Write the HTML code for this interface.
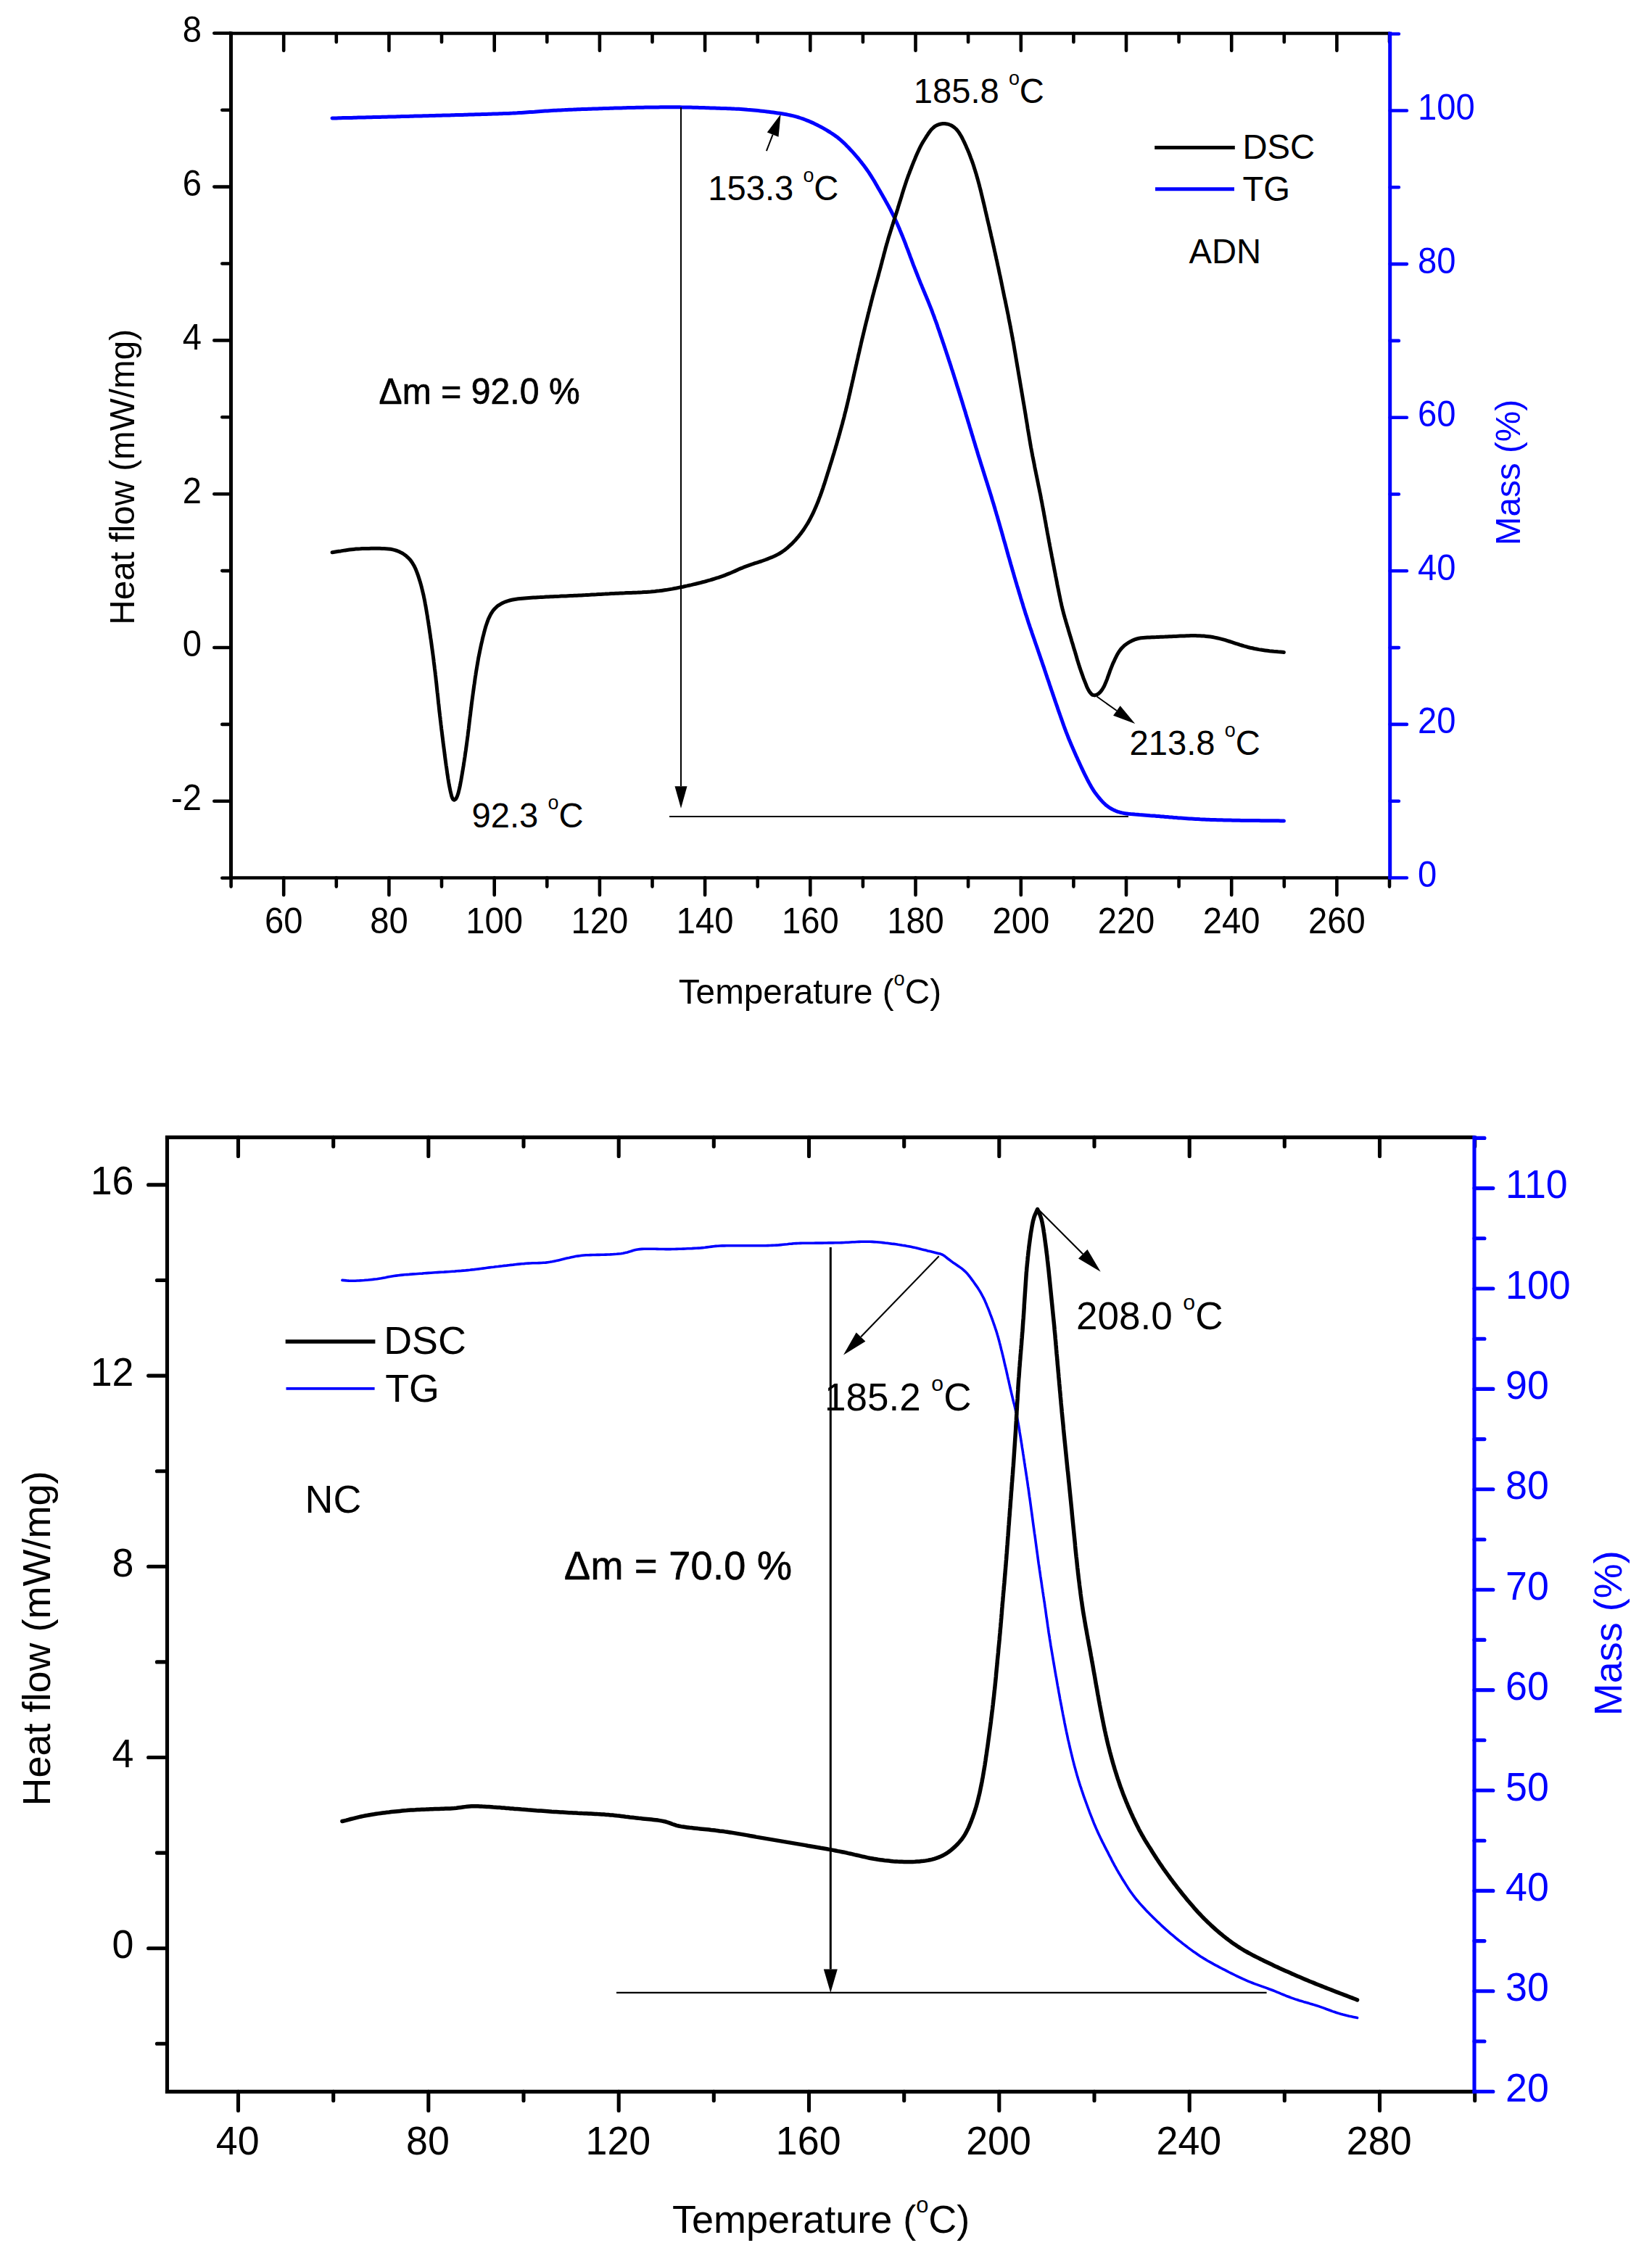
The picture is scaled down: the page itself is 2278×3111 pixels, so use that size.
<!DOCTYPE html>
<html lang="en"><head><meta charset="utf-8"><title>DSC / TG curves of ADN and NC</title>
<style>html,body{margin:0;padding:0;background:#fff}body{width:2278px;height:3111px;overflow:hidden}svg{display:block}text{font-family:'Liberation Sans', sans-serif}</style>
</head><body>
<svg width="2278" height="3111" viewBox="0 0 2278 3111">
<rect width="2278" height="3111" fill="#fff"/>
<g id="chart-adn"><g fill="none" stroke-linejoin="round" stroke-linecap="round">
<path d="M458.0 163.0L461.0 162.9L464.0 162.9L467.0 162.8L470.0 162.7L473.0 162.6L476.0 162.6L479.0 162.5L482.0 162.4L485.0 162.4L488.0 162.3L491.0 162.2L494.0 162.1L497.0 162.1L500.0 162.0L503.0 161.9L506.0 161.8L509.0 161.8L512.0 161.7L515.0 161.6L518.0 161.5L521.0 161.5L524.0 161.4L527.0 161.3L530.0 161.2L533.0 161.2L536.0 161.1L539.0 161.0L542.0 160.9L545.0 160.9L548.0 160.8L551.0 160.7L554.0 160.6L557.0 160.5L560.0 160.5L563.0 160.4L566.0 160.3L569.0 160.2L572.0 160.1L575.0 160.1L578.0 160.0L581.0 159.9L584.0 159.8L587.0 159.7L590.0 159.7L593.0 159.6L596.0 159.5L599.0 159.4L602.0 159.3L605.0 159.3L608.0 159.2L611.0 159.1L613.9 159.0L616.9 158.9L619.9 158.9L622.9 158.8L625.9 158.7L628.9 158.6L631.9 158.5L634.9 158.4L637.9 158.4L640.9 158.3L643.9 158.2L646.9 158.1L649.9 158.0L652.9 157.9L655.9 157.8L658.9 157.7L661.9 157.7L664.9 157.6L667.9 157.5L670.9 157.4L673.9 157.3L676.9 157.2L679.9 157.1L682.9 157.0L685.9 156.9L688.9 156.8L691.9 156.7L694.9 156.6L697.9 156.5L700.9 156.4L703.9 156.2L706.9 156.1L709.9 155.9L712.9 155.8L715.9 155.6L718.9 155.4L721.9 155.2L724.9 155.0L727.9 154.8L730.9 154.6L733.8 154.4L736.8 154.2L739.8 153.9L742.8 153.7L745.8 153.5L748.8 153.3L751.8 153.1L754.8 152.9L757.8 152.7L760.8 152.5L763.8 152.3L766.8 152.2L769.8 152.0L772.8 151.9L775.8 151.7L778.8 151.6L781.7 151.4L784.7 151.3L787.7 151.2L790.7 151.1L793.7 150.9L796.7 150.8L799.7 150.7L802.7 150.6L805.7 150.5L808.7 150.4L811.7 150.3L814.7 150.2L817.7 150.1L820.7 150.0L823.7 149.9L826.7 149.8L829.7 149.7L832.7 149.6L835.7 149.5L838.7 149.4L841.7 149.3L844.7 149.2L847.7 149.1L850.7 149.0L853.7 149.0L856.7 148.9L859.7 148.8L862.7 148.7L865.7 148.6L868.7 148.6L871.7 148.5L874.7 148.4L877.7 148.3L880.7 148.3L883.7 148.2L886.7 148.2L889.7 148.1L892.7 148.1L895.7 148.0L898.7 148.0L901.7 147.9L904.7 147.9L907.7 147.9L910.7 147.8L913.7 147.8L916.7 147.8L919.7 147.8L922.7 147.8L925.7 147.8L928.7 147.8L931.7 147.8L934.7 147.8L937.7 147.8L940.7 147.9L943.7 147.9L946.7 148.0L949.7 148.0L952.7 148.1L955.7 148.2L958.7 148.2L961.7 148.3L964.7 148.4L967.7 148.5L970.7 148.6L973.7 148.7L976.7 148.8L979.7 148.9L982.7 149.0L985.7 149.1L988.7 149.2L991.7 149.3L994.7 149.4L997.7 149.5L1000.7 149.6L1003.7 149.7L1006.7 149.8L1009.7 149.9L1012.7 150.1L1015.6 150.2L1018.6 150.3L1021.6 150.5L1024.6 150.7L1027.6 150.9L1030.6 151.2L1033.6 151.4L1036.6 151.7L1039.6 152.0L1042.6 152.3L1045.5 152.6L1048.5 152.9L1051.5 153.2L1054.5 153.6L1057.5 153.9L1060.4 154.3L1063.4 154.7L1066.4 155.1L1069.4 155.5L1072.3 155.9L1075.3 156.3L1078.3 156.8L1081.2 157.3L1084.2 157.8L1087.1 158.4L1090.0 159.0L1093.0 159.6L1095.9 160.4L1098.7 161.2L1101.6 162.0L1104.5 163.0L1107.3 163.9L1110.1 165.0L1112.9 166.1L1115.7 167.2L1118.4 168.4L1121.2 169.6L1123.9 170.9L1126.6 172.2L1129.2 173.6L1131.9 175.0L1134.5 176.4L1137.1 177.9L1139.7 179.4L1142.3 181.0L1144.8 182.5L1147.3 184.2L1149.8 185.8L1152.3 187.6L1154.7 189.3L1157.0 191.2L1159.3 193.1L1161.5 195.1L1163.7 197.1L1165.9 199.2L1168.0 201.4L1170.1 203.5L1172.1 205.7L1174.2 207.9L1176.2 210.1L1178.2 212.4L1180.1 214.6L1182.1 216.9L1184.0 219.2L1185.9 221.5L1187.8 223.9L1189.6 226.2L1191.4 228.6L1193.2 231.0L1195.0 233.5L1196.7 235.9L1198.4 238.4L1200.0 240.9L1201.6 243.4L1203.2 246.0L1204.8 248.5L1206.3 251.1L1207.8 253.7L1209.3 256.3L1210.8 258.9L1212.3 261.5L1213.8 264.1L1215.3 266.7L1216.8 269.3L1218.3 271.9L1219.8 274.5L1221.2 277.1L1222.7 279.8L1224.2 282.4L1225.6 285.0L1227.0 287.7L1228.4 290.3L1229.8 293.0L1231.1 295.6L1232.5 298.3L1233.8 301.0L1235.0 303.8L1236.3 306.5L1237.5 309.2L1238.7 312.0L1239.9 314.7L1241.0 317.5L1242.2 320.3L1243.3 323.0L1244.5 325.8L1245.6 328.6L1246.7 331.4L1247.8 334.2L1248.9 337.0L1249.9 339.8L1251.0 342.6L1252.1 345.4L1253.1 348.2L1254.2 351.0L1255.2 353.8L1256.3 356.6L1257.3 359.4L1258.4 362.3L1259.4 365.1L1260.5 367.9L1261.6 370.7L1262.7 373.5L1263.8 376.2L1264.9 379.0L1266.0 381.8L1267.1 384.6L1268.2 387.4L1269.3 390.2L1270.5 392.9L1271.6 395.7L1272.8 398.5L1273.9 401.2L1275.1 404.0L1276.2 406.8L1277.4 409.5L1278.5 412.3L1279.7 415.1L1280.8 417.9L1281.9 420.6L1283.0 423.4L1284.1 426.2L1285.2 429.0L1286.2 431.8L1287.3 434.6L1288.3 437.4L1289.3 440.3L1290.4 443.1L1291.4 445.9L1292.4 448.7L1293.3 451.6L1294.3 454.4L1295.3 457.2L1296.3 460.1L1297.2 462.9L1298.2 465.8L1299.2 468.6L1300.1 471.4L1301.1 474.3L1302.0 477.1L1303.0 480.0L1303.9 482.8L1304.9 485.7L1305.8 488.5L1306.8 491.4L1307.7 494.2L1308.6 497.1L1309.6 499.9L1310.5 502.8L1311.4 505.6L1312.3 508.5L1313.3 511.3L1314.2 514.2L1315.1 517.1L1316.0 519.9L1316.9 522.8L1317.8 525.6L1318.7 528.5L1319.6 531.4L1320.5 534.2L1321.4 537.1L1322.3 539.9L1323.2 542.8L1324.1 545.7L1325.0 548.5L1325.9 551.4L1326.8 554.3L1327.6 557.1L1328.5 560.0L1329.4 562.9L1330.3 565.7L1331.2 568.6L1332.0 571.5L1332.9 574.4L1333.8 577.2L1334.6 580.1L1335.5 583.0L1336.4 585.8L1337.2 588.7L1338.1 591.6L1339.0 594.5L1339.8 597.3L1340.7 600.2L1341.6 603.1L1342.4 605.9L1343.3 608.8L1344.2 611.7L1345.0 614.6L1345.9 617.4L1346.8 620.3L1347.7 623.2L1348.5 626.0L1349.4 628.9L1350.3 631.8L1351.2 634.6L1352.1 637.5L1353.0 640.4L1353.9 643.2L1354.8 646.1L1355.7 648.9L1356.6 651.8L1357.5 654.7L1358.4 657.5L1359.3 660.4L1360.2 663.2L1361.1 666.1L1362.0 669.0L1362.9 671.8L1363.8 674.7L1364.7 677.6L1365.6 680.4L1366.5 683.3L1367.4 686.2L1368.2 689.0L1369.1 691.9L1370.0 694.8L1370.8 697.6L1371.7 700.5L1372.5 703.4L1373.4 706.3L1374.2 709.2L1375.1 712.0L1375.9 714.9L1376.7 717.8L1377.6 720.7L1378.4 723.6L1379.2 726.4L1380.0 729.3L1380.9 732.2L1381.7 735.1L1382.5 738.0L1383.3 740.9L1384.1 743.8L1384.9 746.6L1385.8 749.5L1386.6 752.4L1387.4 755.3L1388.2 758.2L1389.0 761.1L1389.8 764.0L1390.6 766.9L1391.5 769.7L1392.3 772.6L1393.1 775.5L1393.9 778.4L1394.8 781.3L1395.6 784.2L1396.4 787.1L1397.3 789.9L1398.1 792.8L1398.9 795.7L1399.8 798.6L1400.6 801.4L1401.5 804.3L1402.3 807.2L1403.2 810.1L1404.1 812.9L1404.9 815.8L1405.8 818.7L1406.7 821.6L1407.5 824.4L1408.4 827.3L1409.3 830.2L1410.2 833.0L1411.0 835.9L1411.9 838.8L1412.8 841.6L1413.7 844.5L1414.6 847.4L1415.6 850.2L1416.5 853.1L1417.4 855.9L1418.3 858.8L1419.3 861.6L1420.2 864.5L1421.2 867.3L1422.2 870.1L1423.1 873.0L1424.1 875.8L1425.1 878.7L1426.1 881.5L1427.0 884.3L1428.0 887.2L1429.0 890.0L1430.0 892.8L1431.0 895.7L1431.9 898.5L1432.9 901.3L1433.9 904.2L1434.8 907.0L1435.8 909.9L1436.8 912.7L1437.7 915.5L1438.7 918.4L1439.7 921.2L1440.6 924.1L1441.6 926.9L1442.5 929.7L1443.5 932.6L1444.4 935.4L1445.4 938.3L1446.4 941.1L1447.3 944.0L1448.3 946.8L1449.2 949.7L1450.2 952.5L1451.2 955.3L1452.1 958.2L1453.1 961.0L1454.1 963.9L1455.0 966.7L1456.0 969.5L1457.0 972.4L1458.0 975.2L1458.9 978.0L1459.9 980.9L1460.9 983.7L1461.9 986.5L1462.9 989.4L1463.9 992.2L1464.9 995.0L1465.9 997.8L1466.9 1000.7L1467.9 1003.5L1469.0 1006.3L1470.0 1009.1L1471.1 1011.9L1472.2 1014.7L1473.3 1017.5L1474.4 1020.3L1475.6 1023.1L1476.7 1025.8L1477.9 1028.6L1479.1 1031.3L1480.3 1034.1L1481.5 1036.8L1482.7 1039.6L1483.9 1042.3L1485.2 1045.0L1486.4 1047.8L1487.7 1050.5L1488.9 1053.2L1490.2 1056.0L1491.4 1058.7L1492.7 1061.4L1494.0 1064.1L1495.3 1066.8L1496.6 1069.5L1498.0 1072.2L1499.3 1074.8L1500.7 1077.5L1502.1 1080.1L1503.6 1082.8L1505.1 1085.4L1506.6 1087.9L1508.2 1090.5L1509.9 1092.9L1511.7 1095.3L1513.6 1097.7L1515.4 1100.0L1517.4 1102.3L1519.4 1104.6L1521.4 1106.7L1523.6 1108.8L1525.8 1110.8L1528.2 1112.6L1530.7 1114.3L1533.3 1115.7L1536.0 1117.1L1538.7 1118.3L1541.5 1119.3L1544.4 1120.2L1547.3 1120.9L1550.2 1121.5L1553.2 1121.9L1556.1 1122.3L1559.1 1122.6L1562.1 1122.8L1565.1 1123.1L1568.1 1123.3L1571.1 1123.6L1574.1 1123.8L1577.1 1124.0L1580.1 1124.2L1583.1 1124.4L1586.0 1124.7L1589.0 1124.9L1592.0 1125.1L1595.0 1125.4L1598.0 1125.6L1601.0 1125.9L1604.0 1126.1L1607.0 1126.4L1610.0 1126.6L1613.0 1126.9L1615.9 1127.1L1618.9 1127.4L1621.9 1127.6L1624.9 1127.9L1627.9 1128.1L1630.9 1128.3L1633.9 1128.5L1636.9 1128.7L1639.9 1128.9L1642.9 1129.1L1645.9 1129.3L1648.9 1129.5L1651.9 1129.6L1654.9 1129.8L1657.8 1129.9L1660.8 1130.0L1663.8 1130.2L1666.8 1130.3L1669.8 1130.4L1672.8 1130.5L1675.8 1130.6L1678.8 1130.7L1681.8 1130.8L1684.8 1130.8L1687.8 1130.9L1690.8 1131.0L1693.8 1131.1L1696.8 1131.1L1699.8 1131.2L1702.8 1131.2L1705.8 1131.3L1708.8 1131.3L1711.8 1131.4L1714.8 1131.4L1717.8 1131.5L1720.8 1131.5L1723.8 1131.5L1726.8 1131.6L1729.8 1131.6L1732.8 1131.6L1735.8 1131.6L1738.8 1131.7L1741.8 1131.7L1744.8 1131.7L1747.8 1131.7L1750.8 1131.7L1753.8 1131.8L1756.8 1131.8L1759.8 1131.8L1762.8 1131.8L1765.8 1131.9L1768.8 1131.9L1770.4 1131.9" stroke="#0000ff" stroke-width="5"/>
<path d="M458.1 761.8L461.1 761.3L464.0 760.8L467.0 760.3L469.9 759.9L472.9 759.4L475.9 758.9L478.8 758.5L481.8 758.1L484.8 757.7L487.8 757.4L490.8 757.1L493.7 756.9L496.7 756.8L499.7 756.6L502.7 756.5L505.7 756.4L508.7 756.4L511.7 756.3L514.7 756.3L517.7 756.3L520.7 756.3L523.7 756.3L526.7 756.4L529.7 756.5L532.7 756.7L535.7 756.9L538.7 757.3L541.6 757.9L544.5 758.6L547.4 759.5L550.1 760.6L552.8 761.9L555.4 763.3L557.9 765.0L560.3 766.8L562.5 768.8L564.6 770.9L566.5 773.2L568.3 775.7L569.8 778.2L571.3 780.8L572.6 783.5L573.8 786.3L574.9 789.1L575.9 791.9L576.9 794.7L577.8 797.6L578.7 800.4L579.6 803.3L580.4 806.2L581.2 809.1L581.9 812.0L582.6 814.9L583.3 817.8L584.0 820.7L584.6 823.7L585.2 826.6L585.8 829.6L586.3 832.5L586.9 835.5L587.4 838.4L587.9 841.4L588.4 844.3L588.9 847.3L589.4 850.2L589.8 853.2L590.3 856.2L590.8 859.1L591.2 862.1L591.7 865.1L592.1 868.0L592.5 871.0L593.0 874.0L593.4 876.9L593.8 879.9L594.3 882.9L594.7 885.8L595.1 888.8L595.5 891.8L595.9 894.8L596.3 897.7L596.7 900.7L597.1 903.7L597.5 906.7L597.9 909.6L598.2 912.6L598.6 915.6L599.0 918.6L599.3 921.5L599.7 924.5L600.1 927.5L600.4 930.5L600.8 933.5L601.1 936.4L601.4 939.4L601.8 942.4L602.1 945.4L602.4 948.4L602.7 951.4L603.0 954.3L603.4 957.3L603.7 960.3L604.0 963.3L604.3 966.3L604.6 969.3L605.0 972.2L605.3 975.2L605.6 978.2L605.9 981.2L606.3 984.2L606.6 987.1L607.0 990.1L607.3 993.1L607.7 996.1L608.0 999.1L608.4 1002.0L608.7 1005.0L609.1 1008.0L609.5 1011.0L609.8 1013.9L610.2 1016.9L610.6 1019.9L610.9 1022.9L611.3 1025.9L611.7 1028.8L612.1 1031.8L612.5 1034.8L612.9 1037.8L613.2 1040.7L613.6 1043.7L614.0 1046.7L614.4 1049.7L614.8 1052.6L615.2 1055.6L615.7 1058.6L616.1 1061.5L616.5 1064.5L616.9 1067.5L617.4 1070.4L617.8 1073.4L618.3 1076.4L618.8 1079.3L619.3 1082.3L619.9 1085.2L620.5 1088.2L621.1 1091.1L621.8 1094.0L622.5 1096.9L623.4 1099.8L624.7 1102.2L626.5 1103.2L628.4 1102.0L629.8 1099.6L630.9 1096.8L631.9 1093.9L632.6 1091.0L633.3 1088.1L634.0 1085.2L634.6 1082.3L635.1 1079.3L635.7 1076.4L636.2 1073.4L636.7 1070.5L637.2 1067.5L637.7 1064.5L638.2 1061.6L638.7 1058.6L639.2 1055.7L639.6 1052.7L640.1 1049.7L640.5 1046.8L641.0 1043.8L641.4 1040.8L641.8 1037.9L642.3 1034.9L642.7 1031.9L643.1 1028.9L643.5 1026.0L643.9 1023.0L644.3 1020.0L644.7 1017.0L645.1 1014.1L645.4 1011.1L645.8 1008.1L646.2 1005.1L646.5 1002.2L646.9 999.2L647.2 996.2L647.6 993.2L647.9 990.2L648.3 987.3L648.7 984.3L649.0 981.3L649.4 978.3L649.8 975.4L650.1 972.4L650.5 969.4L650.9 966.4L651.3 963.5L651.7 960.5L652.1 957.5L652.5 954.5L652.9 951.6L653.3 948.6L653.7 945.6L654.2 942.7L654.6 939.7L655.0 936.7L655.4 933.7L655.9 930.8L656.3 927.8L656.8 924.8L657.3 921.9L657.8 918.9L658.3 916.0L658.8 913.0L659.3 910.1L659.8 907.1L660.4 904.2L661.0 901.2L661.6 898.3L662.2 895.3L662.8 892.4L663.4 889.5L664.1 886.5L664.8 883.6L665.4 880.7L666.1 877.8L666.9 874.9L667.6 872.0L668.4 869.1L669.2 866.2L670.0 863.3L671.0 860.5L672.0 857.6L673.0 854.8L674.2 852.1L675.5 849.4L676.9 846.7L678.5 844.2L680.2 841.7L682.1 839.5L684.2 837.4L686.5 835.4L689.0 833.8L691.5 832.3L694.2 831.0L697.0 829.8L699.8 828.8L702.7 828.0L705.6 827.3L708.5 826.7L711.5 826.2L714.5 825.8L717.4 825.5L720.4 825.2L723.4 824.9L726.4 824.7L729.4 824.5L732.4 824.3L735.4 824.1L738.4 823.9L741.4 823.7L744.4 823.6L747.4 823.4L750.4 823.3L753.4 823.1L756.3 823.0L759.3 822.8L762.3 822.7L765.3 822.5L768.3 822.4L771.3 822.3L774.3 822.1L777.3 822.0L780.3 821.9L783.3 821.7L786.3 821.6L789.3 821.5L792.3 821.3L795.3 821.2L798.3 821.0L801.3 820.9L804.3 820.7L807.3 820.6L810.3 820.4L813.3 820.3L816.3 820.1L819.3 819.9L822.3 819.8L825.3 819.6L828.3 819.4L831.3 819.2L834.2 819.1L837.2 818.9L840.2 818.8L843.2 818.6L846.2 818.4L849.2 818.3L852.2 818.2L855.2 818.0L858.2 817.9L861.2 817.8L864.2 817.6L867.2 817.5L870.2 817.4L873.2 817.3L876.2 817.2L879.2 817.1L882.2 816.9L885.2 816.8L888.2 816.6L891.2 816.5L894.2 816.2L897.2 816.0L900.1 815.7L903.1 815.5L906.1 815.1L909.1 814.8L912.1 814.4L915.0 814.0L918.0 813.6L921.0 813.1L923.9 812.6L926.9 812.1L929.8 811.5L932.8 811.0L935.7 810.4L938.6 809.8L941.6 809.2L944.5 808.5L947.4 807.9L950.4 807.2L953.3 806.6L956.2 805.9L959.1 805.2L962.0 804.5L965.0 803.8L967.9 803.0L970.8 802.3L973.7 801.5L976.5 800.7L979.4 799.9L982.3 799.0L985.2 798.1L988.0 797.2L990.9 796.3L993.7 795.3L996.5 794.4L999.4 793.3L1002.2 792.2L1004.9 791.1L1007.7 790.0L1010.5 788.8L1013.2 787.6L1015.9 786.4L1018.7 785.1L1021.4 783.9L1024.2 782.8L1027.0 781.6L1029.8 780.6L1032.6 779.6L1035.4 778.6L1038.3 777.7L1041.1 776.7L1044.0 775.8L1046.8 774.9L1049.7 774.0L1052.5 773.0L1055.3 772.0L1058.2 770.9L1060.9 769.8L1063.7 768.7L1066.5 767.5L1069.2 766.3L1071.9 764.9L1074.5 763.5L1077.1 761.9L1079.5 760.2L1082.0 758.5L1084.3 756.6L1086.6 754.7L1088.8 752.7L1091.0 750.7L1093.2 748.5L1095.2 746.4L1097.3 744.2L1099.2 741.9L1101.2 739.6L1103.0 737.3L1104.9 734.9L1106.6 732.5L1108.4 730.0L1110.0 727.5L1111.6 725.0L1113.2 722.5L1114.7 719.9L1116.2 717.2L1117.6 714.6L1119.0 711.9L1120.3 709.3L1121.6 706.6L1122.9 703.8L1124.1 701.1L1125.3 698.3L1126.4 695.6L1127.6 692.8L1128.7 690.0L1129.7 687.2L1130.8 684.4L1131.8 681.6L1132.8 678.8L1133.8 675.9L1134.8 673.1L1135.7 670.2L1136.7 667.4L1137.6 664.5L1138.5 661.7L1139.4 658.8L1140.3 656.0L1141.2 653.1L1142.1 650.2L1143.0 647.4L1143.9 644.5L1144.8 641.6L1145.7 638.8L1146.6 635.9L1147.5 633.1L1148.3 630.2L1149.2 627.3L1150.1 624.4L1150.9 621.6L1151.8 618.7L1152.6 615.8L1153.5 612.9L1154.3 610.1L1155.1 607.2L1156.0 604.3L1156.8 601.4L1157.6 598.5L1158.4 595.6L1159.2 592.7L1160.0 589.8L1160.8 586.9L1161.6 584.1L1162.3 581.2L1163.1 578.3L1163.9 575.3L1164.6 572.4L1165.3 569.5L1166.1 566.6L1166.8 563.7L1167.5 560.8L1168.2 557.9L1168.9 555.0L1169.6 552.0L1170.3 549.1L1170.9 546.2L1171.6 543.3L1172.3 540.4L1172.9 537.4L1173.6 534.5L1174.3 531.6L1174.9 528.7L1175.6 525.7L1176.3 522.8L1176.9 519.9L1177.6 516.9L1178.2 514.0L1178.9 511.1L1179.6 508.2L1180.2 505.2L1180.9 502.3L1181.5 499.4L1182.2 496.5L1182.9 493.5L1183.5 490.6L1184.2 487.7L1184.9 484.8L1185.5 481.8L1186.2 478.9L1186.9 476.0L1187.5 473.1L1188.2 470.1L1188.9 467.2L1189.6 464.3L1190.3 461.4L1191.0 458.5L1191.7 455.6L1192.4 452.6L1193.1 449.7L1193.8 446.8L1194.5 443.9L1195.3 441.0L1196.0 438.1L1196.7 435.2L1197.4 432.2L1198.2 429.3L1198.9 426.4L1199.6 423.5L1200.4 420.6L1201.1 417.7L1201.8 414.8L1202.6 411.9L1203.3 409.0L1204.1 406.1L1204.9 403.2L1205.6 400.3L1206.4 397.4L1207.2 394.5L1208.0 391.6L1208.8 388.7L1209.6 385.8L1210.4 382.9L1211.2 380.0L1211.9 377.1L1212.7 374.2L1213.5 371.3L1214.3 368.4L1215.0 365.5L1215.8 362.6L1216.5 359.7L1217.3 356.8L1218.1 353.9L1218.8 351.0L1219.6 348.1L1220.4 345.2L1221.1 342.3L1221.9 339.5L1222.7 336.6L1223.6 333.7L1224.4 330.8L1225.2 327.9L1226.1 325.1L1227.0 322.2L1227.9 319.3L1228.8 316.5L1229.7 313.6L1230.6 310.7L1231.5 307.9L1232.4 305.0L1233.3 302.2L1234.2 299.3L1235.1 296.5L1236.1 293.6L1237.0 290.7L1237.9 287.9L1238.7 285.0L1239.6 282.2L1240.5 279.3L1241.4 276.4L1242.3 273.6L1243.2 270.7L1244.0 267.8L1244.9 264.9L1245.8 262.1L1246.7 259.2L1247.6 256.4L1248.6 253.5L1249.5 250.7L1250.5 247.8L1251.5 245.0L1252.5 242.2L1253.6 239.4L1254.6 236.6L1255.7 233.8L1256.8 231.0L1257.9 228.2L1259.0 225.4L1260.1 222.6L1261.3 219.9L1262.4 217.1L1263.6 214.3L1264.8 211.6L1266.1 208.8L1267.3 206.1L1268.6 203.4L1270.0 200.7L1271.4 198.1L1272.9 195.5L1274.5 193.0L1276.1 190.5L1277.7 187.9L1279.4 185.4L1281.0 182.9L1282.8 180.5L1284.7 178.2L1286.8 176.2L1289.1 174.3L1291.6 172.9L1294.3 171.7L1297.1 171.0L1300.0 170.6L1302.9 170.6L1305.8 170.9L1308.7 171.7L1311.4 172.8L1313.9 174.2L1316.3 176.0L1318.5 178.0L1320.4 180.2L1322.2 182.6L1323.8 185.1L1325.4 187.7L1326.8 190.3L1328.1 193.0L1329.4 195.7L1330.7 198.4L1331.9 201.1L1333.1 203.9L1334.3 206.6L1335.5 209.4L1336.6 212.2L1337.7 215.0L1338.7 217.8L1339.8 220.6L1340.8 223.4L1341.8 226.3L1342.7 229.1L1343.6 232.0L1344.5 234.8L1345.4 237.7L1346.3 240.6L1347.1 243.5L1347.9 246.3L1348.7 249.2L1349.5 252.1L1350.3 255.0L1351.0 257.9L1351.8 260.8L1352.5 263.7L1353.2 266.7L1353.9 269.6L1354.6 272.5L1355.3 275.4L1356.0 278.3L1356.7 281.2L1357.4 284.2L1358.1 287.1L1358.7 290.0L1359.4 292.9L1360.1 295.9L1360.8 298.8L1361.4 301.7L1362.1 304.6L1362.8 307.5L1363.5 310.5L1364.2 313.4L1364.8 316.3L1365.5 319.2L1366.2 322.2L1366.8 325.1L1367.5 328.0L1368.2 330.9L1368.8 333.9L1369.5 336.8L1370.1 339.7L1370.8 342.6L1371.4 345.6L1372.1 348.5L1372.7 351.4L1373.4 354.4L1374.0 357.3L1374.7 360.2L1375.3 363.2L1375.9 366.1L1376.6 369.0L1377.2 372.0L1377.8 374.9L1378.4 377.8L1379.1 380.8L1379.7 383.7L1380.3 386.6L1380.9 389.6L1381.5 392.5L1382.1 395.4L1382.7 398.4L1383.3 401.3L1383.9 404.3L1384.5 407.2L1385.1 410.1L1385.8 413.1L1386.4 416.0L1387.0 418.9L1387.6 421.9L1388.2 424.8L1388.8 427.8L1389.4 430.7L1390.0 433.6L1390.6 436.6L1391.1 439.5L1391.7 442.5L1392.3 445.4L1392.9 448.4L1393.4 451.3L1394.0 454.3L1394.5 457.2L1395.1 460.1L1395.6 463.1L1396.2 466.0L1396.7 469.0L1397.3 472.0L1397.8 474.9L1398.3 477.9L1398.8 480.8L1399.3 483.8L1399.8 486.7L1400.3 489.7L1400.8 492.6L1401.3 495.6L1401.8 498.6L1402.3 501.5L1402.8 504.5L1403.3 507.4L1403.8 510.4L1404.3 513.4L1404.8 516.3L1405.3 519.3L1405.8 522.2L1406.3 525.2L1406.8 528.1L1407.3 531.1L1407.8 534.1L1408.3 537.0L1408.8 540.0L1409.3 542.9L1409.8 545.9L1410.3 548.8L1410.8 551.8L1411.3 554.8L1411.8 557.7L1412.3 560.7L1412.8 563.6L1413.3 566.6L1413.8 569.6L1414.3 572.5L1414.7 575.5L1415.2 578.4L1415.7 581.4L1416.2 584.4L1416.7 587.3L1417.1 590.3L1417.6 593.3L1418.1 596.2L1418.6 599.2L1419.1 602.1L1419.6 605.1L1420.1 608.0L1420.6 611.0L1421.1 614.0L1421.6 616.9L1422.2 619.9L1422.7 622.8L1423.3 625.8L1423.8 628.7L1424.4 631.6L1425.0 634.6L1425.6 637.5L1426.2 640.5L1426.7 643.4L1427.3 646.4L1427.9 649.3L1428.5 652.2L1429.1 655.2L1429.7 658.1L1430.3 661.1L1430.9 664.0L1431.5 666.9L1432.1 669.9L1432.7 672.8L1433.3 675.8L1433.9 678.7L1434.5 681.6L1435.1 684.6L1435.6 687.5L1436.2 690.5L1436.8 693.4L1437.3 696.4L1437.9 699.3L1438.4 702.3L1439.0 705.2L1439.5 708.2L1440.0 711.1L1440.6 714.1L1441.1 717.0L1441.7 720.0L1442.2 722.9L1442.7 725.9L1443.3 728.8L1443.8 731.8L1444.3 734.7L1444.9 737.7L1445.4 740.6L1446.0 743.6L1446.5 746.5L1447.1 749.5L1447.6 752.4L1448.2 755.4L1448.7 758.3L1449.3 761.3L1449.9 764.2L1450.4 767.2L1451.0 770.1L1451.6 773.1L1452.1 776.0L1452.7 779.0L1453.3 781.9L1453.8 784.8L1454.4 787.8L1455.0 790.7L1455.5 793.7L1456.1 796.6L1456.7 799.6L1457.3 802.5L1457.8 805.5L1458.4 808.4L1459.0 811.3L1459.6 814.3L1460.2 817.2L1460.8 820.2L1461.4 823.1L1462.0 826.0L1462.6 829.0L1463.3 831.9L1463.9 834.8L1464.6 837.7L1465.3 840.7L1466.1 843.6L1466.8 846.5L1467.6 849.3L1468.4 852.2L1469.3 855.1L1470.1 858.0L1471.0 860.9L1471.8 863.8L1472.7 866.6L1473.5 869.5L1474.4 872.4L1475.2 875.3L1476.1 878.1L1477.0 881.0L1477.8 883.9L1478.7 886.7L1479.6 889.6L1480.4 892.5L1481.3 895.4L1482.2 898.2L1483.0 901.1L1483.9 904.0L1484.7 906.9L1485.5 909.7L1486.4 912.6L1487.3 915.5L1488.2 918.3L1489.1 921.2L1490.1 924.0L1491.1 926.9L1492.1 929.7L1493.1 932.5L1494.1 935.3L1495.2 938.1L1496.3 940.9L1497.4 943.7L1498.5 946.5L1499.7 949.2L1501.1 951.9L1502.7 954.4L1504.6 956.7L1506.8 958.4L1509.5 958.9L1512.2 958.1L1514.7 956.6L1516.9 954.6L1518.8 952.3L1520.5 949.8L1522.0 947.3L1523.3 944.6L1524.5 941.8L1525.6 939.1L1526.7 936.3L1527.7 933.4L1528.7 930.6L1529.7 927.8L1530.7 924.9L1531.8 922.1L1532.9 919.4L1534.0 916.6L1535.2 913.8L1536.5 911.1L1537.7 908.4L1539.1 905.7L1540.4 903.0L1541.9 900.4L1543.6 897.9L1545.3 895.5L1547.3 893.3L1549.4 891.2L1551.7 889.2L1554.1 887.5L1556.6 885.9L1559.2 884.4L1561.9 883.1L1564.7 881.9L1567.5 881.0L1570.4 880.3L1573.3 879.8L1576.3 879.5L1579.3 879.3L1582.3 879.1L1585.3 878.9L1588.3 878.8L1591.3 878.7L1594.3 878.6L1597.3 878.4L1600.3 878.3L1603.3 878.2L1606.3 878.1L1609.3 877.9L1612.3 877.8L1615.3 877.7L1618.3 877.5L1621.3 877.4L1624.3 877.2L1627.2 877.1L1630.2 877.0L1633.2 876.9L1636.2 876.8L1639.2 876.7L1642.2 876.6L1645.2 876.6L1648.2 876.6L1651.2 876.7L1654.2 876.8L1657.2 876.9L1660.2 877.1L1663.2 877.4L1666.2 877.7L1669.1 878.1L1672.1 878.5L1675.0 879.1L1678.0 879.7L1680.9 880.4L1683.8 881.1L1686.7 881.9L1689.6 882.7L1692.4 883.6L1695.3 884.5L1698.2 885.4L1701.0 886.3L1703.9 887.3L1706.7 888.2L1709.5 889.2L1712.4 890.0L1715.3 890.9L1718.2 891.7L1721.1 892.5L1724.0 893.2L1726.9 893.8L1729.8 894.5L1732.8 895.0L1735.7 895.6L1738.7 896.1L1741.6 896.5L1744.6 896.9L1747.6 897.3L1750.6 897.7L1753.5 898.0L1756.5 898.3L1759.5 898.5L1762.5 898.8L1765.5 899.0L1768.5 899.2L1770.4 899.4" stroke="#000" stroke-width="5"/>
</g>
<g stroke="#000" fill="none">
<path d="M316.0 46.0H1916.7" stroke-width="4.5"/>
<path d="M316.0 1210.6H1916.7" stroke-width="4.5"/>
<path d="M318.5 43.8V1212.8" stroke-width="5"/>
<path d="M318.6 1210.6V1222.6M391.2 46.0V69.7M391.2 1210.6V1234.3M463.8 46.0V58.0M463.8 1210.6V1222.6M536.4 46.0V69.7M536.4 1210.6V1234.3M609.0 46.0V58.0M609.0 1210.6V1222.6M681.7 46.0V69.7M681.7 1210.6V1234.3M754.3 46.0V58.0M754.3 1210.6V1222.6M826.9 46.0V69.7M826.9 1210.6V1234.3M899.5 46.0V58.0M899.5 1210.6V1222.6M972.1 46.0V69.7M972.1 1210.6V1234.3M1044.7 46.0V58.0M1044.7 1210.6V1222.6M1117.3 46.0V69.7M1117.3 1210.6V1234.3M1189.9 46.0V58.0M1189.9 1210.6V1222.6M1262.5 46.0V69.7M1262.5 1210.6V1234.3M1335.1 46.0V58.0M1335.1 1210.6V1222.6M1407.8 46.0V69.7M1407.8 1210.6V1234.3M1480.4 46.0V58.0M1480.4 1210.6V1222.6M1553.0 46.0V69.7M1553.0 1210.6V1234.3M1625.6 46.0V58.0M1625.6 1210.6V1222.6M1698.2 46.0V69.7M1698.2 1210.6V1234.3M1770.8 46.0V58.0M1770.8 1210.6V1222.6M1843.4 46.0V69.7M1843.4 1210.6V1234.3M1916.0 46.0V58.0M1916.0 1210.6V1222.6" stroke-width="4.6" stroke-linecap="round"/>
<path d="M318.5 1210.7H306.3M318.5 1104.8H295.3M318.5 998.9H306.3M318.5 893.0H295.3M318.5 787.1H306.3M318.5 681.2H295.3M318.5 575.3H306.3M318.5 469.4H295.3M318.5 363.5H306.3M318.5 257.6H295.3M318.5 151.7H306.3M318.5 45.8H295.3" stroke-width="4.6" stroke-linecap="round"/>
</g>
<g stroke="#0000ff" fill="none">
<path d="M1916.7 43.8V1212.8" stroke-width="5"/>
<path d="M1916.7 1210.5H1939.9M1916.7 1104.7H1928.9M1916.7 998.9H1939.9M1916.7 893.1H1928.9M1916.7 787.3H1939.9M1916.7 681.5H1928.9M1916.7 575.7H1939.9M1916.7 469.9H1928.9M1916.7 364.1H1939.9M1916.7 258.3H1928.9M1916.7 152.5H1939.9M1916.7 46.7H1928.9" stroke-width="4.6" stroke-linecap="round"/>
</g>
<g fill="#000">
<text transform="translate(391.2 1287.0) scale(1 1.060)" font-size="47.2" text-anchor="middle">60</text>
<text transform="translate(536.4 1287.0) scale(1 1.060)" font-size="47.2" text-anchor="middle">80</text>
<text transform="translate(681.7 1287.0) scale(1 1.060)" font-size="47.2" text-anchor="middle">100</text>
<text transform="translate(826.9 1287.0) scale(1 1.060)" font-size="47.2" text-anchor="middle">120</text>
<text transform="translate(972.1 1287.0) scale(1 1.060)" font-size="47.2" text-anchor="middle">140</text>
<text transform="translate(1117.3 1287.0) scale(1 1.060)" font-size="47.2" text-anchor="middle">160</text>
<text transform="translate(1262.5 1287.0) scale(1 1.060)" font-size="47.2" text-anchor="middle">180</text>
<text transform="translate(1407.8 1287.0) scale(1 1.060)" font-size="47.2" text-anchor="middle">200</text>
<text transform="translate(1553.0 1287.0) scale(1 1.060)" font-size="47.2" text-anchor="middle">220</text>
<text transform="translate(1698.2 1287.0) scale(1 1.060)" font-size="47.2" text-anchor="middle">240</text>
<text transform="translate(1843.4 1287.0) scale(1 1.060)" font-size="47.2" text-anchor="middle">260</text>
<text transform="translate(278.0 1117.2) scale(1 1.060)" font-size="47.2" text-anchor="end">-2</text>
<text transform="translate(278.0 905.4) scale(1 1.060)" font-size="47.2" text-anchor="end">0</text>
<text transform="translate(278.0 693.6) scale(1 1.060)" font-size="47.2" text-anchor="end">2</text>
<text transform="translate(278.0 481.8) scale(1 1.060)" font-size="47.2" text-anchor="end">4</text>
<text transform="translate(278.0 270.0) scale(1 1.060)" font-size="47.2" text-anchor="end">6</text>
<text transform="translate(278.0 58.2) scale(1 1.060)" font-size="47.2" text-anchor="end">8</text>
</g>
<g fill="#0000ff">
<text transform="translate(1955.0 1222.9) scale(1 1.060)" font-size="47.2">0</text>
<text transform="translate(1955.0 1011.3) scale(1 1.060)" font-size="47.2">20</text>
<text transform="translate(1955.0 799.7) scale(1 1.060)" font-size="47.2">40</text>
<text transform="translate(1955.0 588.1) scale(1 1.060)" font-size="47.2">60</text>
<text transform="translate(1955.0 376.5) scale(1 1.060)" font-size="47.2">80</text>
<text transform="translate(1955.0 164.9) scale(1 1.060)" font-size="47.2">100</text>
</g>
<text transform="translate(1116.9 1384.0) scale(1 1.020)" font-size="47.7" text-anchor="middle">Temperature (<tspan font-size="27.2" dy="-24.8">o</tspan><tspan dy="24.8">C)</tspan></text>
<text transform="translate(184.7 657.8) rotate(-90) scale(1 1.020)" font-size="47.7" text-anchor="middle">Heat flow (mW/mg)</text>
<text transform="translate(2096.0 651.6) rotate(-90) scale(1 1.020)" font-size="47.7" text-anchor="middle" fill="#0000ff">Mass (%)</text>
<line x1="1592.2" y1="203.5" x2="1702.8" y2="203.5" stroke="#000" stroke-width="5"/>
<line x1="1593.0" y1="260.8" x2="1702.0" y2="260.8" stroke="#0000ff" stroke-width="5"/>
<text transform="translate(1713.5 218.6)" font-size="47.2">DSC</text>
<text transform="translate(1713.5 276.8)" font-size="47.2">TG</text>
<line x1="939.0" y1="148.0" x2="939.0" y2="1084.2" stroke="#000" stroke-width="2.0"/><polygon points="939.0,1114.8 930.5,1084.2 947.5,1084.2" fill="#000"/>
<line x1="1056.9" y1="208.1" x2="1065.6" y2="185.6" stroke="#000" stroke-width="2.0"/><polygon points="1076.6,157.4 1073.5,188.7 1057.8,182.6" fill="#000"/>
<line x1="1512.5" y1="960.5" x2="1539.9" y2="980.0" stroke="#000" stroke-width="2.0"/><polygon points="1565.2,997.9 1535.1,986.7 1544.7,973.2" fill="#000"/>
<line x1="923.0" y1="1126.0" x2="1556.0" y2="1126.0" stroke="#000" stroke-width="1.9"/>
<text transform="translate(976.2 276.0) scale(1 1.035)" font-size="47.2">153.3 <tspan font-size="26.9" dy="-24.2">o</tspan><tspan dy="24.2">C</tspan></text>
<text transform="translate(1259.7 141.6) scale(1 1.035)" font-size="47.2">185.8 <tspan font-size="26.9" dy="-24.2">o</tspan><tspan dy="24.2">C</tspan></text>
<text transform="translate(650.5 1141.3) scale(1 1.035)" font-size="47.2">92.3 <tspan font-size="26.9" dy="-24.2">o</tspan><tspan dy="24.2">C</tspan></text>
<text transform="translate(1557.5 1041.4) scale(1 1.035)" font-size="47.2">213.8 <tspan font-size="26.9" dy="-24.2">o</tspan><tspan dy="24.2">C</tspan></text>
<text transform="translate(1639.5 362.8)" font-size="47.2">ADN</text>
<text transform="translate(522.6 557.0) scale(1 1.030)" font-size="48.0" textLength="277.0" lengthAdjust="spacing" stroke="#000" stroke-width="0.7">Δm = 92.0 %</text></g>
<g id="chart-nc"><g fill="none" stroke-linejoin="round" stroke-linecap="round">
<path d="M471.9 1765.4L474.9 1765.6L477.9 1765.9L480.9 1766.1L483.9 1766.2L486.9 1766.2L489.9 1766.2L492.9 1766.0L495.8 1765.9L498.8 1765.7L501.8 1765.5L504.8 1765.2L507.8 1765.0L510.8 1764.7L513.8 1764.4L516.8 1764.0L519.7 1763.7L522.7 1763.2L525.7 1762.8L528.6 1762.2L531.5 1761.7L534.5 1761.1L537.4 1760.5L540.4 1760.0L543.3 1759.5L546.3 1759.1L549.3 1758.7L552.3 1758.4L555.2 1758.1L558.2 1757.8L561.2 1757.6L564.2 1757.4L567.2 1757.1L570.2 1756.9L573.2 1756.7L576.2 1756.5L579.2 1756.3L582.2 1756.1L585.2 1755.8L588.1 1755.6L591.1 1755.4L594.1 1755.2L597.1 1755.0L600.1 1754.8L603.1 1754.6L606.1 1754.4L609.1 1754.2L612.1 1754.1L615.1 1753.9L618.1 1753.7L621.1 1753.5L624.1 1753.3L627.1 1753.1L630.0 1752.8L633.0 1752.6L636.0 1752.4L639.0 1752.1L642.0 1751.9L645.0 1751.6L648.0 1751.3L651.0 1750.9L653.9 1750.6L656.9 1750.2L659.9 1749.9L662.9 1749.5L665.8 1749.1L668.8 1748.7L671.8 1748.3L674.8 1747.9L677.7 1747.5L680.7 1747.2L683.7 1746.8L686.7 1746.5L689.7 1746.1L692.6 1745.8L695.6 1745.4L698.6 1745.1L701.6 1744.7L704.6 1744.4L707.5 1744.1L710.5 1743.7L713.5 1743.4L716.5 1743.1L719.5 1742.8L722.5 1742.6L725.5 1742.3L728.4 1742.1L731.4 1742.0L734.4 1741.8L737.4 1741.8L740.4 1741.7L743.4 1741.6L746.4 1741.5L749.4 1741.3L752.4 1741.1L755.4 1740.7L758.3 1740.3L761.3 1739.8L764.2 1739.2L767.2 1738.6L770.1 1737.9L773.0 1737.2L775.9 1736.5L778.8 1735.8L781.7 1735.1L784.7 1734.5L787.6 1733.8L790.5 1733.2L793.5 1732.6L796.4 1732.1L799.4 1731.7L802.4 1731.3L805.3 1731.0L808.3 1730.8L811.3 1730.7L814.3 1730.6L817.3 1730.5L820.3 1730.5L823.3 1730.4L826.3 1730.4L829.3 1730.3L832.3 1730.2L835.3 1730.1L838.3 1730.0L841.3 1729.9L844.3 1729.7L847.3 1729.5L850.3 1729.3L853.3 1729.0L856.2 1728.7L859.2 1728.2L862.1 1727.6L865.0 1726.9L867.8 1726.1L870.6 1725.2L873.5 1724.3L876.4 1723.6L879.3 1723.0L882.2 1722.6L885.2 1722.4L888.1 1722.3L891.1 1722.2L894.1 1722.2L897.1 1722.2L900.1 1722.3L903.1 1722.3L906.1 1722.4L909.1 1722.5L912.1 1722.5L915.1 1722.5L918.1 1722.6L921.1 1722.6L924.1 1722.6L927.1 1722.5L930.1 1722.5L933.1 1722.4L936.1 1722.3L939.1 1722.2L942.1 1722.1L945.1 1722.0L948.1 1721.8L951.1 1721.7L954.1 1721.6L957.1 1721.4L960.1 1721.3L963.1 1721.1L966.1 1720.9L969.1 1720.6L972.0 1720.3L975.0 1719.9L978.0 1719.5L980.9 1719.1L983.9 1718.7L986.9 1718.4L989.8 1718.2L992.8 1718.0L995.8 1717.9L998.8 1717.9L1001.8 1717.8L1004.8 1717.8L1007.8 1717.8L1010.8 1717.8L1013.8 1717.8L1016.8 1717.8L1019.8 1717.8L1022.8 1717.8L1025.8 1717.8L1028.8 1717.8L1031.8 1717.8L1034.8 1717.8L1037.8 1717.8L1040.8 1717.8L1043.8 1717.8L1046.8 1717.7L1049.8 1717.7L1052.8 1717.7L1055.8 1717.7L1058.8 1717.6L1061.8 1717.5L1064.8 1717.4L1067.8 1717.3L1070.8 1717.1L1073.8 1716.9L1076.8 1716.6L1079.8 1716.3L1082.7 1716.0L1085.7 1715.7L1088.7 1715.3L1091.7 1715.1L1094.7 1714.8L1097.7 1714.6L1100.7 1714.5L1103.7 1714.4L1106.7 1714.3L1109.7 1714.3L1112.7 1714.2L1115.7 1714.2L1118.7 1714.2L1121.7 1714.2L1124.7 1714.1L1127.7 1714.1L1130.7 1714.1L1133.7 1714.1L1136.7 1714.0L1139.7 1714.0L1142.7 1713.9L1145.7 1713.9L1148.7 1713.9L1151.7 1713.8L1154.7 1713.7L1157.7 1713.7L1160.6 1713.6L1163.6 1713.5L1166.6 1713.3L1169.6 1713.2L1172.6 1713.0L1175.6 1712.8L1178.6 1712.7L1181.6 1712.5L1184.6 1712.4L1187.6 1712.3L1190.6 1712.2L1193.6 1712.2L1196.6 1712.2L1199.6 1712.3L1202.6 1712.4L1205.6 1712.6L1208.6 1712.8L1211.6 1713.0L1214.5 1713.3L1217.5 1713.6L1220.5 1714.0L1223.5 1714.3L1226.5 1714.7L1229.4 1715.1L1232.4 1715.4L1235.4 1715.8L1238.4 1716.3L1241.3 1716.7L1244.3 1717.2L1247.3 1717.6L1250.2 1718.2L1253.2 1718.7L1256.1 1719.3L1259.0 1719.9L1262.0 1720.6L1264.9 1721.2L1267.8 1721.9L1270.7 1722.7L1273.6 1723.4L1276.5 1724.1L1279.4 1724.9L1282.3 1725.6L1285.2 1726.3L1288.1 1727.0L1291.0 1727.7L1294.0 1728.4L1296.8 1729.1L1299.6 1730.2L1302.1 1731.8L1304.5 1733.6L1306.8 1735.5L1309.2 1737.3L1311.6 1739.1L1314.0 1740.9L1316.5 1742.5L1319.0 1744.2L1321.5 1745.9L1323.9 1747.6L1326.4 1749.4L1328.7 1751.3L1330.9 1753.3L1333.0 1755.4L1334.9 1757.7L1336.8 1760.0L1338.6 1762.4L1340.4 1764.8L1342.2 1767.3L1343.9 1769.7L1345.6 1772.1L1347.3 1774.6L1349.0 1777.1L1350.6 1779.6L1352.1 1782.2L1353.6 1784.8L1355.0 1787.5L1356.4 1790.1L1357.7 1792.8L1358.9 1795.6L1360.1 1798.3L1361.2 1801.1L1362.4 1803.9L1363.5 1806.7L1364.6 1809.5L1365.6 1812.3L1366.7 1815.1L1367.7 1817.9L1368.7 1820.7L1369.7 1823.5L1370.7 1826.4L1371.7 1829.2L1372.6 1832.0L1373.6 1834.9L1374.5 1837.8L1375.3 1840.6L1376.2 1843.5L1377.0 1846.4L1377.8 1849.3L1378.5 1852.2L1379.3 1855.1L1380.0 1858.0L1380.7 1860.9L1381.5 1863.8L1382.2 1866.8L1382.9 1869.7L1383.6 1872.6L1384.3 1875.5L1384.9 1878.4L1385.6 1881.3L1386.3 1884.3L1387.0 1887.2L1387.7 1890.1L1388.3 1893.0L1389.0 1896.0L1389.6 1898.9L1390.3 1901.8L1391.0 1904.7L1391.6 1907.7L1392.3 1910.6L1392.9 1913.5L1393.6 1916.4L1394.3 1919.4L1395.0 1922.3L1395.7 1925.2L1396.4 1928.1L1397.1 1931.0L1397.8 1933.9L1398.6 1936.8L1399.3 1939.8L1400.0 1942.7L1400.6 1945.6L1401.3 1948.5L1401.9 1951.5L1402.5 1954.4L1403.1 1957.3L1403.6 1960.3L1404.1 1963.2L1404.7 1966.2L1405.2 1969.1L1405.7 1972.1L1406.1 1975.1L1406.6 1978.0L1407.1 1981.0L1407.6 1984.0L1408.0 1986.9L1408.5 1989.9L1409.0 1992.8L1409.4 1995.8L1409.9 1998.8L1410.4 2001.7L1410.8 2004.7L1411.3 2007.7L1411.7 2010.6L1412.2 2013.6L1412.6 2016.6L1413.1 2019.5L1413.5 2022.5L1414.0 2025.5L1414.4 2028.4L1414.9 2031.4L1415.3 2034.4L1415.8 2037.3L1416.2 2040.3L1416.7 2043.3L1417.1 2046.2L1417.5 2049.2L1418.0 2052.2L1418.4 2055.1L1418.8 2058.1L1419.2 2061.1L1419.6 2064.0L1420.1 2067.0L1420.5 2070.0L1420.9 2073.0L1421.3 2075.9L1421.7 2078.9L1422.1 2081.9L1422.5 2084.8L1422.9 2087.8L1423.3 2090.8L1423.7 2093.8L1424.1 2096.7L1424.5 2099.7L1424.9 2102.7L1425.3 2105.7L1425.7 2108.6L1426.1 2111.6L1426.5 2114.6L1427.0 2117.5L1427.4 2120.5L1427.8 2123.5L1428.2 2126.5L1428.6 2129.4L1429.0 2132.4L1429.4 2135.4L1429.8 2138.4L1430.2 2141.3L1430.6 2144.3L1431.0 2147.3L1431.4 2150.2L1431.8 2153.2L1432.2 2156.2L1432.7 2159.2L1433.1 2162.1L1433.5 2165.1L1434.0 2168.1L1434.4 2171.0L1434.8 2174.0L1435.3 2177.0L1435.7 2179.9L1436.2 2182.9L1436.6 2185.9L1437.0 2188.8L1437.5 2191.8L1437.9 2194.8L1438.4 2197.7L1438.8 2200.7L1439.3 2203.7L1439.7 2206.6L1440.2 2209.6L1440.6 2212.6L1441.0 2215.5L1441.5 2218.5L1441.9 2221.5L1442.3 2224.4L1442.7 2227.4L1443.1 2230.4L1443.6 2233.4L1444.0 2236.3L1444.4 2239.3L1444.8 2242.3L1445.3 2245.2L1445.7 2248.2L1446.1 2251.2L1446.6 2254.1L1447.1 2257.1L1447.5 2260.1L1448.0 2263.0L1448.5 2266.0L1448.9 2269.0L1449.4 2271.9L1449.9 2274.9L1450.4 2277.8L1450.9 2280.8L1451.4 2283.8L1451.9 2286.7L1452.4 2289.7L1452.9 2292.6L1453.4 2295.6L1453.9 2298.5L1454.4 2301.5L1454.9 2304.5L1455.4 2307.4L1455.9 2310.4L1456.5 2313.3L1457.0 2316.3L1457.5 2319.2L1458.0 2322.2L1458.5 2325.1L1459.1 2328.1L1459.6 2331.0L1460.1 2334.0L1460.7 2336.9L1461.2 2339.9L1461.7 2342.8L1462.3 2345.8L1462.8 2348.7L1463.4 2351.7L1464.0 2354.6L1464.5 2357.6L1465.1 2360.5L1465.6 2363.5L1466.2 2366.4L1466.8 2369.4L1467.4 2372.3L1467.9 2375.3L1468.5 2378.2L1469.1 2381.1L1469.7 2384.1L1470.3 2387.0L1470.9 2390.0L1471.6 2392.9L1472.2 2395.8L1472.8 2398.8L1473.5 2401.7L1474.2 2404.6L1474.8 2407.5L1475.5 2410.5L1476.2 2413.4L1476.9 2416.3L1477.6 2419.2L1478.3 2422.1L1479.0 2425.0L1479.7 2427.9L1480.5 2430.9L1481.2 2433.8L1482.0 2436.7L1482.8 2439.6L1483.6 2442.4L1484.4 2445.3L1485.2 2448.2L1486.1 2451.1L1486.9 2454.0L1487.8 2456.8L1488.7 2459.7L1489.6 2462.6L1490.6 2465.4L1491.5 2468.3L1492.5 2471.1L1493.4 2473.9L1494.4 2476.8L1495.4 2479.6L1496.4 2482.4L1497.4 2485.2L1498.5 2488.1L1499.5 2490.9L1500.5 2493.7L1501.6 2496.5L1502.6 2499.3L1503.7 2502.1L1504.8 2504.9L1505.9 2507.7L1507.0 2510.5L1508.1 2513.3L1509.2 2516.1L1510.4 2518.8L1511.6 2521.6L1512.8 2524.3L1514.0 2527.0L1515.3 2529.8L1516.6 2532.5L1517.9 2535.2L1519.2 2537.9L1520.5 2540.6L1521.9 2543.2L1523.2 2545.9L1524.6 2548.6L1526.0 2551.3L1527.4 2553.9L1528.7 2556.6L1530.1 2559.3L1531.5 2561.9L1532.8 2564.6L1534.2 2567.3L1535.6 2569.9L1537.0 2572.6L1538.5 2575.2L1539.9 2577.8L1541.4 2580.4L1542.9 2583.0L1544.5 2585.6L1546.0 2588.2L1547.5 2590.7L1549.1 2593.3L1550.7 2595.8L1552.3 2598.4L1553.9 2600.9L1555.5 2603.4L1557.2 2605.9L1558.9 2608.4L1560.6 2610.8L1562.4 2613.3L1564.2 2615.7L1566.0 2618.0L1567.9 2620.3L1569.9 2622.6L1571.8 2624.9L1573.8 2627.1L1575.8 2629.3L1577.9 2631.5L1579.9 2633.7L1582.0 2635.9L1584.1 2638.1L1586.2 2640.2L1588.3 2642.3L1590.4 2644.4L1592.6 2646.5L1594.7 2648.6L1596.9 2650.7L1599.1 2652.7L1601.3 2654.8L1603.5 2656.8L1605.7 2658.8L1607.9 2660.8L1610.2 2662.8L1612.4 2664.8L1614.7 2666.8L1617.0 2668.7L1619.3 2670.6L1621.6 2672.6L1623.9 2674.5L1626.2 2676.3L1628.6 2678.2L1630.9 2680.1L1633.3 2681.9L1635.7 2683.7L1638.1 2685.6L1640.5 2687.4L1642.9 2689.1L1645.3 2690.9L1647.8 2692.6L1650.2 2694.3L1652.7 2696.0L1655.2 2697.7L1657.7 2699.3L1660.3 2700.9L1662.9 2702.4L1665.4 2704.0L1668.0 2705.4L1670.7 2706.9L1673.3 2708.4L1675.9 2709.8L1678.6 2711.2L1681.2 2712.6L1683.9 2714.0L1686.5 2715.4L1689.2 2716.7L1691.9 2718.1L1694.5 2719.5L1697.2 2720.8L1699.9 2722.2L1702.6 2723.5L1705.3 2724.8L1708.0 2726.1L1710.7 2727.4L1713.4 2728.7L1716.2 2729.9L1718.9 2731.1L1721.7 2732.3L1724.4 2733.4L1727.2 2734.5L1730.0 2735.6L1732.9 2736.6L1735.7 2737.6L1738.5 2738.6L1741.3 2739.6L1744.2 2740.6L1747.0 2741.6L1749.8 2742.7L1752.6 2743.7L1755.4 2744.8L1758.2 2745.9L1761.0 2747.1L1763.7 2748.2L1766.5 2749.4L1769.3 2750.5L1772.1 2751.6L1774.8 2752.8L1777.6 2753.8L1780.4 2754.9L1783.3 2755.9L1786.1 2756.9L1789.0 2757.8L1791.8 2758.7L1794.7 2759.5L1797.6 2760.4L1800.5 2761.2L1803.4 2762.0L1806.2 2762.9L1809.1 2763.7L1812.0 2764.6L1814.8 2765.5L1817.7 2766.4L1820.5 2767.4L1823.4 2768.4L1826.2 2769.4L1829.0 2770.5L1831.8 2771.5L1834.6 2772.5L1837.4 2773.6L1840.3 2774.5L1843.1 2775.5L1846.0 2776.4L1848.8 2777.3L1851.7 2778.1L1854.6 2778.8L1857.5 2779.5L1860.5 2780.2L1863.4 2780.8L1866.3 2781.4L1869.3 2782.1L1871.6 2782.6" stroke="#0000ff" stroke-width="3.6"/>
<path d="M471.9 2511.5L474.8 2510.8L477.7 2510.1L480.6 2509.3L483.5 2508.5L486.4 2507.8L489.3 2507.1L492.3 2506.4L495.2 2505.7L498.1 2505.0L501.0 2504.4L504.0 2503.8L506.9 2503.3L509.9 2502.7L512.8 2502.2L515.8 2501.8L518.8 2501.3L521.7 2500.9L524.7 2500.5L527.7 2500.1L530.7 2499.7L533.6 2499.3L536.6 2499.0L539.6 2498.6L542.6 2498.3L545.6 2498.0L548.5 2497.7L551.5 2497.4L554.5 2497.1L557.5 2496.8L560.5 2496.6L563.5 2496.3L566.5 2496.1L569.5 2495.9L572.5 2495.8L575.5 2495.6L578.4 2495.4L581.4 2495.3L584.4 2495.2L587.4 2495.1L590.4 2494.9L593.4 2494.8L596.4 2494.7L599.4 2494.6L602.4 2494.5L605.4 2494.4L608.4 2494.3L611.4 2494.2L614.4 2494.1L617.4 2494.0L620.4 2493.9L623.4 2493.7L626.4 2493.5L629.4 2493.2L632.3 2492.8L635.3 2492.4L638.3 2492.0L641.2 2491.6L644.2 2491.2L647.2 2491.0L650.2 2490.8L653.2 2490.8L656.2 2490.8L659.2 2490.8L662.1 2490.9L665.1 2491.1L668.1 2491.2L671.1 2491.4L674.1 2491.5L677.1 2491.7L680.1 2492.0L683.1 2492.2L686.1 2492.4L689.1 2492.6L692.1 2492.9L695.1 2493.1L698.1 2493.4L701.0 2493.6L704.0 2493.9L707.0 2494.1L710.0 2494.4L713.0 2494.6L716.0 2494.8L719.0 2495.1L722.0 2495.3L725.0 2495.5L728.0 2495.8L731.0 2496.0L733.9 2496.2L736.9 2496.4L739.9 2496.7L742.9 2496.9L745.9 2497.1L748.9 2497.3L751.9 2497.5L754.9 2497.7L757.9 2497.9L760.9 2498.2L763.9 2498.4L766.9 2498.6L769.9 2498.8L772.8 2499.0L775.8 2499.1L778.8 2499.3L781.8 2499.5L784.8 2499.7L787.8 2499.8L790.8 2500.0L793.8 2500.1L796.8 2500.3L799.8 2500.4L802.8 2500.6L805.8 2500.7L808.8 2500.8L811.8 2501.0L814.8 2501.1L817.8 2501.2L820.8 2501.4L823.8 2501.6L826.8 2501.7L829.8 2501.9L832.8 2502.1L835.8 2502.4L838.7 2502.6L841.7 2502.9L844.7 2503.1L847.7 2503.4L850.7 2503.8L853.7 2504.1L856.6 2504.4L859.6 2504.8L862.6 2505.2L865.6 2505.5L868.6 2505.9L871.5 2506.2L874.5 2506.6L877.5 2506.9L880.5 2507.3L883.5 2507.6L886.4 2507.9L889.4 2508.2L892.4 2508.5L895.4 2508.8L898.4 2509.1L901.4 2509.4L904.3 2509.7L907.3 2510.1L910.3 2510.6L913.2 2511.1L916.1 2511.7L919.0 2512.5L921.8 2513.4L924.6 2514.4L927.4 2515.5L930.2 2516.4L933.0 2517.3L935.9 2518.0L938.8 2518.6L941.7 2519.1L944.7 2519.5L947.7 2519.9L950.7 2520.3L953.6 2520.6L956.6 2520.9L959.6 2521.2L962.6 2521.6L965.6 2521.9L968.6 2522.2L971.5 2522.5L974.5 2522.8L977.5 2523.1L980.5 2523.5L983.5 2523.8L986.5 2524.1L989.4 2524.5L992.4 2524.9L995.4 2525.2L998.4 2525.6L1001.3 2526.1L1004.3 2526.5L1007.3 2526.9L1010.2 2527.4L1013.2 2527.9L1016.1 2528.4L1019.1 2528.9L1022.1 2529.4L1025.0 2529.9L1028.0 2530.4L1030.9 2530.9L1033.9 2531.5L1036.8 2532.0L1039.8 2532.5L1042.7 2533.1L1045.7 2533.6L1048.6 2534.1L1051.6 2534.6L1054.6 2535.1L1057.5 2535.6L1060.5 2536.1L1063.4 2536.6L1066.4 2537.1L1069.3 2537.6L1072.3 2538.1L1075.3 2538.6L1078.2 2539.1L1081.2 2539.6L1084.1 2540.1L1087.1 2540.6L1090.1 2541.1L1093.0 2541.6L1096.0 2542.1L1098.9 2542.6L1101.9 2543.1L1104.8 2543.6L1107.8 2544.1L1110.8 2544.6L1113.7 2545.2L1116.7 2545.7L1119.6 2546.2L1122.6 2546.7L1125.5 2547.2L1128.5 2547.7L1131.4 2548.3L1134.4 2548.8L1137.4 2549.3L1140.3 2549.8L1143.3 2550.4L1146.2 2550.9L1149.2 2551.4L1152.1 2552.0L1155.1 2552.6L1158.0 2553.1L1160.9 2553.7L1163.9 2554.3L1166.8 2554.9L1169.7 2555.6L1172.7 2556.2L1175.6 2556.9L1178.5 2557.6L1181.4 2558.2L1184.4 2558.9L1187.3 2559.6L1190.2 2560.3L1193.1 2560.9L1196.1 2561.6L1199.0 2562.2L1201.9 2562.7L1204.9 2563.3L1207.9 2563.8L1210.8 2564.3L1213.8 2564.7L1216.8 2565.1L1219.7 2565.5L1222.7 2565.8L1225.7 2566.1L1228.7 2566.4L1231.7 2566.7L1234.7 2566.9L1237.6 2567.1L1240.6 2567.2L1243.6 2567.3L1246.6 2567.4L1249.6 2567.5L1252.6 2567.5L1255.6 2567.4L1258.6 2567.4L1261.6 2567.3L1264.6 2567.1L1267.6 2566.9L1270.6 2566.6L1273.6 2566.3L1276.5 2565.9L1279.5 2565.4L1282.4 2564.8L1285.3 2564.1L1288.2 2563.3L1291.1 2562.4L1293.9 2561.4L1296.7 2560.2L1299.4 2559.0L1302.0 2557.6L1304.6 2556.1L1307.1 2554.5L1309.5 2552.7L1311.9 2550.9L1314.2 2548.9L1316.4 2546.9L1318.6 2544.8L1320.7 2542.7L1322.7 2540.5L1324.6 2538.2L1326.5 2535.9L1328.2 2533.5L1329.9 2531.0L1331.4 2528.4L1332.8 2525.8L1334.2 2523.1L1335.5 2520.4L1336.7 2517.6L1337.8 2514.9L1339.0 2512.1L1340.0 2509.3L1341.1 2506.5L1342.1 2503.7L1343.1 2500.8L1344.0 2498.0L1344.9 2495.1L1345.8 2492.2L1346.6 2489.4L1347.4 2486.5L1348.2 2483.6L1348.9 2480.7L1349.6 2477.7L1350.3 2474.8L1351.0 2471.9L1351.6 2469.0L1352.2 2466.0L1352.8 2463.1L1353.4 2460.1L1354.0 2457.2L1354.5 2454.3L1355.1 2451.3L1355.6 2448.4L1356.1 2445.4L1356.6 2442.4L1357.1 2439.5L1357.6 2436.5L1358.1 2433.6L1358.5 2430.6L1359.0 2427.6L1359.4 2424.7L1359.8 2421.7L1360.3 2418.7L1360.7 2415.8L1361.1 2412.8L1361.6 2409.8L1362.0 2406.8L1362.4 2403.9L1362.8 2400.9L1363.2 2397.9L1363.6 2395.0L1364.0 2392.0L1364.4 2389.0L1364.8 2386.0L1365.2 2383.1L1365.6 2380.1L1366.0 2377.1L1366.4 2374.1L1366.7 2371.2L1367.1 2368.2L1367.5 2365.2L1367.8 2362.2L1368.2 2359.2L1368.6 2356.3L1368.9 2353.3L1369.3 2350.3L1369.6 2347.3L1369.9 2344.3L1370.3 2341.4L1370.6 2338.4L1370.9 2335.4L1371.2 2332.4L1371.6 2329.4L1371.9 2326.5L1372.2 2323.5L1372.5 2320.5L1372.8 2317.5L1373.1 2314.5L1373.4 2311.5L1373.6 2308.5L1373.9 2305.6L1374.2 2302.6L1374.5 2299.6L1374.8 2296.6L1375.1 2293.6L1375.3 2290.6L1375.6 2287.6L1375.9 2284.6L1376.2 2281.7L1376.5 2278.7L1376.7 2275.7L1377.0 2272.7L1377.3 2269.7L1377.6 2266.7L1377.9 2263.7L1378.2 2260.8L1378.4 2257.8L1378.7 2254.8L1379.0 2251.8L1379.2 2248.8L1379.5 2245.8L1379.8 2242.8L1380.0 2239.8L1380.3 2236.8L1380.5 2233.9L1380.8 2230.9L1381.0 2227.9L1381.3 2224.9L1381.5 2221.9L1381.7 2218.9L1382.0 2215.9L1382.2 2212.9L1382.5 2209.9L1382.8 2207.0L1383.0 2204.0L1383.3 2201.0L1383.5 2198.0L1383.8 2195.0L1384.1 2192.0L1384.3 2189.0L1384.6 2186.0L1384.9 2183.0L1385.1 2180.1L1385.4 2177.1L1385.6 2174.1L1385.9 2171.1L1386.1 2168.1L1386.4 2165.1L1386.6 2162.1L1386.9 2159.1L1387.1 2156.1L1387.3 2153.2L1387.6 2150.2L1387.8 2147.2L1388.0 2144.2L1388.3 2141.2L1388.5 2138.2L1388.7 2135.2L1388.9 2132.2L1389.2 2129.2L1389.4 2126.2L1389.6 2123.2L1389.8 2120.2L1390.1 2117.3L1390.3 2114.3L1390.5 2111.3L1390.7 2108.3L1390.9 2105.3L1391.2 2102.3L1391.4 2099.3L1391.6 2096.3L1391.8 2093.3L1392.1 2090.3L1392.3 2087.3L1392.5 2084.3L1392.7 2081.4L1393.0 2078.4L1393.2 2075.4L1393.4 2072.4L1393.6 2069.4L1393.9 2066.4L1394.1 2063.4L1394.3 2060.4L1394.5 2057.4L1394.8 2054.4L1395.0 2051.4L1395.2 2048.4L1395.4 2045.5L1395.7 2042.5L1395.9 2039.5L1396.1 2036.5L1396.4 2033.5L1396.6 2030.5L1396.8 2027.5L1397.0 2024.5L1397.3 2021.5L1397.5 2018.5L1397.7 2015.5L1397.9 2012.5L1398.1 2009.6L1398.3 2006.6L1398.5 2003.6L1398.7 2000.6L1398.9 1997.6L1399.1 1994.6L1399.3 1991.6L1399.5 1988.6L1399.7 1985.6L1399.9 1982.6L1400.1 1979.6L1400.3 1976.6L1400.5 1973.6L1400.7 1970.6L1400.8 1967.6L1401.0 1964.6L1401.2 1961.7L1401.4 1958.7L1401.5 1955.7L1401.7 1952.7L1401.9 1949.7L1402.0 1946.7L1402.2 1943.7L1402.4 1940.7L1402.5 1937.7L1402.7 1934.7L1402.9 1931.7L1403.1 1928.7L1403.2 1925.7L1403.4 1922.7L1403.6 1919.7L1403.8 1916.7L1403.9 1913.7L1404.1 1910.7L1404.3 1907.7L1404.5 1904.8L1404.7 1901.8L1405.0 1898.8L1405.2 1895.8L1405.4 1892.8L1405.6 1889.8L1405.8 1886.8L1406.1 1883.8L1406.3 1880.8L1406.5 1877.8L1406.8 1874.8L1407.0 1871.8L1407.2 1868.9L1407.5 1865.9L1407.7 1862.9L1408.0 1859.9L1408.2 1856.9L1408.5 1853.9L1408.7 1850.9L1408.9 1847.9L1409.2 1844.9L1409.4 1841.9L1409.6 1839.0L1409.9 1836.0L1410.1 1833.0L1410.3 1830.0L1410.5 1827.0L1410.7 1824.0L1410.9 1821.0L1411.2 1818.0L1411.4 1815.0L1411.6 1812.0L1411.8 1809.0L1412.0 1806.0L1412.2 1803.0L1412.3 1800.0L1412.5 1797.1L1412.7 1794.1L1412.9 1791.1L1413.1 1788.1L1413.3 1785.1L1413.5 1782.1L1413.7 1779.1L1413.9 1776.1L1414.1 1773.1L1414.3 1770.1L1414.5 1767.1L1414.7 1764.1L1414.9 1761.1L1415.1 1758.1L1415.3 1755.1L1415.6 1752.2L1415.8 1749.2L1416.1 1746.2L1416.4 1743.2L1416.7 1740.2L1417.0 1737.2L1417.2 1734.2L1417.6 1731.3L1417.9 1728.3L1418.2 1725.3L1418.6 1722.3L1418.9 1719.3L1419.3 1716.4L1419.7 1713.4L1420.1 1710.4L1420.5 1707.4L1420.9 1704.5L1421.3 1701.5L1421.8 1698.5L1422.3 1695.6L1422.8 1692.6L1423.3 1689.7L1423.9 1686.7L1424.5 1683.8L1425.3 1680.9L1426.1 1678.0L1427.2 1675.2L1428.4 1672.5L1429.7 1669.7L1430.6 1667.5L1431.8 1670.3L1433.0 1673.0L1434.2 1675.7L1435.2 1678.6L1436.1 1681.4L1436.8 1684.3L1437.4 1687.3L1438.0 1690.2L1438.5 1693.2L1439.0 1696.1L1439.4 1699.1L1439.9 1702.1L1440.3 1705.0L1440.7 1708.0L1441.1 1711.0L1441.5 1714.0L1441.9 1716.9L1442.3 1719.9L1442.7 1722.9L1443.0 1725.9L1443.4 1728.8L1443.8 1731.8L1444.1 1734.8L1444.4 1737.8L1444.8 1740.8L1445.1 1743.7L1445.4 1746.7L1445.8 1749.7L1446.1 1752.7L1446.4 1755.7L1446.7 1758.7L1447.0 1761.6L1447.3 1764.6L1447.6 1767.6L1447.9 1770.6L1448.2 1773.6L1448.5 1776.6L1448.8 1779.5L1449.1 1782.5L1449.4 1785.5L1449.7 1788.5L1450.0 1791.5L1450.3 1794.5L1450.6 1797.5L1450.9 1800.4L1451.2 1803.4L1451.5 1806.4L1451.8 1809.4L1452.1 1812.4L1452.4 1815.4L1452.7 1818.4L1453.0 1821.3L1453.3 1824.3L1453.6 1827.3L1453.9 1830.3L1454.1 1833.3L1454.4 1836.3L1454.7 1839.3L1455.0 1842.2L1455.2 1845.2L1455.5 1848.2L1455.8 1851.2L1456.0 1854.2L1456.3 1857.2L1456.5 1860.2L1456.8 1863.2L1457.0 1866.2L1457.3 1869.1L1457.6 1872.1L1457.8 1875.1L1458.1 1878.1L1458.3 1881.1L1458.6 1884.1L1458.9 1887.1L1459.1 1890.1L1459.4 1893.1L1459.7 1896.0L1459.9 1899.0L1460.2 1902.0L1460.5 1905.0L1460.7 1908.0L1461.0 1911.0L1461.3 1914.0L1461.5 1917.0L1461.8 1919.9L1462.1 1922.9L1462.3 1925.9L1462.6 1928.9L1462.9 1931.9L1463.1 1934.9L1463.4 1937.9L1463.7 1940.9L1464.0 1943.8L1464.2 1946.8L1464.5 1949.8L1464.8 1952.8L1465.1 1955.8L1465.4 1958.8L1465.7 1961.8L1466.0 1964.8L1466.3 1967.7L1466.5 1970.7L1466.8 1973.7L1467.1 1976.7L1467.4 1979.7L1467.7 1982.7L1468.0 1985.7L1468.3 1988.6L1468.6 1991.6L1468.9 1994.6L1469.2 1997.6L1469.5 2000.6L1469.8 2003.6L1470.1 2006.5L1470.4 2009.5L1470.7 2012.5L1471.0 2015.5L1471.3 2018.5L1471.6 2021.5L1471.9 2024.5L1472.2 2027.4L1472.6 2030.4L1472.9 2033.4L1473.2 2036.4L1473.5 2039.4L1473.8 2042.4L1474.1 2045.3L1474.4 2048.3L1474.7 2051.3L1475.0 2054.3L1475.3 2057.3L1475.6 2060.3L1475.9 2063.3L1476.2 2066.2L1476.5 2069.2L1476.8 2072.2L1477.1 2075.2L1477.4 2078.2L1477.7 2081.2L1478.0 2084.2L1478.2 2087.1L1478.5 2090.1L1478.8 2093.1L1479.1 2096.1L1479.4 2099.1L1479.7 2102.1L1480.0 2105.1L1480.3 2108.0L1480.6 2111.0L1480.9 2114.0L1481.2 2117.0L1481.5 2120.0L1481.8 2123.0L1482.1 2126.0L1482.4 2128.9L1482.6 2131.9L1482.9 2134.9L1483.2 2137.9L1483.5 2140.9L1483.8 2143.9L1484.1 2146.8L1484.5 2149.8L1484.8 2152.8L1485.1 2155.8L1485.4 2158.8L1485.7 2161.8L1486.1 2164.7L1486.4 2167.7L1486.7 2170.7L1487.1 2173.7L1487.4 2176.7L1487.8 2179.6L1488.2 2182.6L1488.5 2185.6L1488.9 2188.6L1489.3 2191.6L1489.7 2194.5L1490.0 2197.5L1490.4 2200.5L1490.8 2203.4L1491.2 2206.4L1491.7 2209.4L1492.1 2212.4L1492.5 2215.3L1493.0 2218.3L1493.4 2221.3L1493.9 2224.2L1494.4 2227.2L1494.9 2230.1L1495.4 2233.1L1495.9 2236.1L1496.4 2239.0L1496.9 2242.0L1497.4 2244.9L1498.0 2247.9L1498.5 2250.8L1499.0 2253.8L1499.6 2256.7L1500.1 2259.7L1500.7 2262.6L1501.2 2265.6L1501.7 2268.5L1502.3 2271.5L1502.8 2274.4L1503.4 2277.4L1503.9 2280.3L1504.4 2283.3L1505.0 2286.2L1505.5 2289.2L1506.0 2292.1L1506.6 2295.1L1507.1 2298.0L1507.6 2301.0L1508.1 2304.0L1508.6 2306.9L1509.2 2309.9L1509.7 2312.8L1510.2 2315.8L1510.7 2318.7L1511.2 2321.7L1511.7 2324.6L1512.3 2327.6L1512.8 2330.5L1513.3 2333.5L1513.8 2336.5L1514.4 2339.4L1514.9 2342.4L1515.4 2345.3L1516.0 2348.3L1516.5 2351.2L1517.1 2354.2L1517.6 2357.1L1518.2 2360.1L1518.8 2363.0L1519.3 2365.9L1519.9 2368.9L1520.5 2371.8L1521.1 2374.8L1521.7 2377.7L1522.3 2380.7L1522.9 2383.6L1523.5 2386.5L1524.2 2389.5L1524.8 2392.4L1525.5 2395.3L1526.1 2398.2L1526.8 2401.1L1527.5 2404.1L1528.2 2407.0L1529.0 2409.9L1529.7 2412.8L1530.4 2415.7L1531.2 2418.6L1532.0 2421.5L1532.8 2424.4L1533.6 2427.3L1534.4 2430.2L1535.2 2433.0L1536.1 2435.9L1536.9 2438.8L1537.8 2441.7L1538.7 2444.5L1539.6 2447.4L1540.5 2450.3L1541.4 2453.1L1542.4 2455.9L1543.4 2458.8L1544.3 2461.6L1545.3 2464.5L1546.4 2467.3L1547.4 2470.1L1548.4 2472.9L1549.5 2475.7L1550.6 2478.5L1551.7 2481.3L1552.8 2484.1L1554.0 2486.8L1555.1 2489.6L1556.3 2492.4L1557.5 2495.1L1558.7 2497.9L1559.9 2500.6L1561.2 2503.3L1562.4 2506.1L1563.7 2508.8L1565.0 2511.5L1566.3 2514.2L1567.6 2516.9L1569.0 2519.5L1570.3 2522.2L1571.7 2524.9L1573.2 2527.5L1574.6 2530.1L1576.1 2532.7L1577.6 2535.3L1579.1 2537.9L1580.7 2540.5L1582.3 2543.0L1583.9 2545.6L1585.5 2548.1L1587.1 2550.6L1588.7 2553.2L1590.3 2555.7L1591.9 2558.2L1593.5 2560.7L1595.1 2563.3L1596.8 2565.8L1598.4 2568.3L1600.1 2570.8L1601.8 2573.2L1603.5 2575.7L1605.2 2578.2L1607.0 2580.6L1608.7 2583.0L1610.5 2585.5L1612.3 2587.9L1614.0 2590.3L1615.8 2592.7L1617.6 2595.1L1619.4 2597.5L1621.3 2599.9L1623.1 2602.3L1624.9 2604.6L1626.8 2607.0L1628.6 2609.3L1630.5 2611.7L1632.4 2614.0L1634.3 2616.3L1636.2 2618.7L1638.1 2621.0L1640.1 2623.3L1642.0 2625.5L1644.0 2627.8L1645.9 2630.1L1647.9 2632.3L1649.9 2634.6L1651.9 2636.8L1654.0 2639.0L1656.0 2641.1L1658.1 2643.3L1660.2 2645.5L1662.3 2647.6L1664.5 2649.7L1666.6 2651.8L1668.8 2653.8L1671.0 2655.9L1673.2 2657.9L1675.4 2659.9L1677.7 2661.9L1680.0 2663.8L1682.3 2665.8L1684.6 2667.7L1686.9 2669.6L1689.2 2671.4L1691.6 2673.3L1694.0 2675.1L1696.4 2676.9L1698.8 2678.7L1701.3 2680.4L1703.7 2682.1L1706.2 2683.8L1708.7 2685.4L1711.3 2687.0L1713.8 2688.5L1716.4 2690.1L1719.0 2691.5L1721.6 2693.0L1724.3 2694.4L1726.9 2695.8L1729.6 2697.2L1732.3 2698.6L1734.9 2699.9L1737.6 2701.2L1740.3 2702.6L1743.0 2703.9L1745.7 2705.2L1748.4 2706.5L1751.1 2707.8L1753.8 2709.1L1756.5 2710.4L1759.2 2711.7L1762.0 2712.9L1764.7 2714.2L1767.4 2715.4L1770.2 2716.7L1772.9 2717.9L1775.6 2719.1L1778.4 2720.3L1781.1 2721.6L1783.9 2722.8L1786.6 2724.0L1789.4 2725.2L1792.1 2726.3L1794.9 2727.5L1797.6 2728.7L1800.4 2729.9L1803.2 2731.0L1805.9 2732.2L1808.7 2733.3L1811.5 2734.4L1814.3 2735.6L1817.1 2736.7L1819.8 2737.8L1822.6 2738.9L1825.4 2740.0L1828.2 2741.1L1831.0 2742.2L1833.8 2743.3L1836.6 2744.4L1839.4 2745.5L1842.2 2746.6L1845.0 2747.6L1847.8 2748.7L1850.6 2749.8L1853.4 2750.9L1856.2 2751.9L1859.0 2753.0L1861.8 2754.1L1864.6 2755.1L1867.4 2756.2L1870.2 2757.3L1871.6 2757.8" stroke="#000" stroke-width="5.5"/>
</g>
<g stroke="#000" fill="none">
<path d="M227.9 1568.4H2033.0" stroke-width="5.1"/>
<path d="M227.9 2884.4H2033.0" stroke-width="5.1"/>
<path d="M230.5 1565.9V2887.0" stroke-width="5.1"/>
<path d="M328.5 1568.4V1594.5M328.5 2884.4V2910.5M459.7 1568.4V1580.9M459.7 2884.4V2896.8M590.8 1568.4V1594.5M590.8 2884.4V2910.5M722.0 1568.4V1580.9M722.0 2884.4V2896.8M853.2 1568.4V1594.5M853.2 2884.4V2910.5M984.3 1568.4V1580.9M984.3 2884.4V2896.8M1115.5 1568.4V1594.5M1115.5 2884.4V2910.5M1246.7 1568.4V1580.9M1246.7 2884.4V2896.8M1377.8 1568.4V1594.5M1377.8 2884.4V2910.5M1509.0 1568.4V1580.9M1509.0 2884.4V2896.8M1640.2 1568.4V1594.5M1640.2 2884.4V2910.5M1771.3 1568.4V1580.9M1771.3 2884.4V2896.8M1902.5 1568.4V1594.5M1902.5 2884.4V2910.5M2033.7 1568.4V1580.9M2033.7 2884.4V2896.8" stroke-width="5.1" stroke-linecap="round"/>
<path d="M230.5 2818.3H216.4M230.5 2686.7H204.6M230.5 2555.1H216.4M230.5 2423.5H204.6M230.5 2291.9H216.4M230.5 2160.3H204.6M230.5 2028.7H216.4M230.5 1897.1H204.6M230.5 1765.5H216.4M230.5 1633.9H204.6" stroke-width="5.1" stroke-linecap="round"/>
</g>
<g stroke="#0000ff" fill="none">
<path d="M2033.0 1565.9V2887.0" stroke-width="5.1"/>
<path d="M2033.0 2884.2H2058.9M2033.0 2815.0H2047.0M2033.0 2745.8H2058.9M2033.0 2676.6H2047.0M2033.0 2607.4H2058.9M2033.0 2538.2H2047.0M2033.0 2469.0H2058.9M2033.0 2399.8H2047.0M2033.0 2330.6H2058.9M2033.0 2261.4H2047.0M2033.0 2192.2H2058.9M2033.0 2123.0H2047.0M2033.0 2053.8H2058.9M2033.0 1984.6H2047.0M2033.0 1915.4H2058.9M2033.0 1846.2H2047.0M2033.0 1777.0H2058.9M2033.0 1707.8H2047.0M2033.0 1638.6H2058.9M2033.0 1569.4H2047.0" stroke-width="5.1" stroke-linecap="round"/>
</g>
<g fill="#000">
<text transform="translate(327.7 2970.8) scale(1 1.035)" font-size="53.8" text-anchor="middle">40</text>
<text transform="translate(590.0 2970.8) scale(1 1.035)" font-size="53.8" text-anchor="middle">80</text>
<text transform="translate(852.4 2970.8) scale(1 1.035)" font-size="53.8" text-anchor="middle">120</text>
<text transform="translate(1114.7 2970.8) scale(1 1.035)" font-size="53.8" text-anchor="middle">160</text>
<text transform="translate(1377.0 2970.8) scale(1 1.035)" font-size="53.8" text-anchor="middle">200</text>
<text transform="translate(1639.4 2970.8) scale(1 1.035)" font-size="53.8" text-anchor="middle">240</text>
<text transform="translate(1901.7 2970.8) scale(1 1.035)" font-size="53.8" text-anchor="middle">280</text>
<text transform="translate(184.5 2700.2) scale(1 1.035)" font-size="53.8" text-anchor="end">0</text>
<text transform="translate(184.5 2437.0) scale(1 1.035)" font-size="53.8" text-anchor="end">4</text>
<text transform="translate(184.5 2173.8) scale(1 1.035)" font-size="53.8" text-anchor="end">8</text>
<text transform="translate(184.5 1910.6) scale(1 1.035)" font-size="53.8" text-anchor="end">12</text>
<text transform="translate(184.5 1647.4) scale(1 1.035)" font-size="53.8" text-anchor="end">16</text>
</g>
<g fill="#0000ff">
<text transform="translate(2076.0 2897.7) scale(1 1.035)" font-size="53.8">20</text>
<text transform="translate(2076.0 2759.3) scale(1 1.035)" font-size="53.8">30</text>
<text transform="translate(2076.0 2620.9) scale(1 1.035)" font-size="53.8">40</text>
<text transform="translate(2076.0 2482.5) scale(1 1.035)" font-size="53.8">50</text>
<text transform="translate(2076.0 2344.1) scale(1 1.035)" font-size="53.8">60</text>
<text transform="translate(2076.0 2205.7) scale(1 1.035)" font-size="53.8">70</text>
<text transform="translate(2076.0 2067.3) scale(1 1.035)" font-size="53.8">80</text>
<text transform="translate(2076.0 1928.9) scale(1 1.035)" font-size="53.8">90</text>
<text transform="translate(2076.0 1790.5) scale(1 1.035)" font-size="53.8">100</text>
<text transform="translate(2076.0 1652.1) scale(1 1.035)" font-size="53.8">110</text>
</g>
<text transform="translate(1132.2 3079.2)" font-size="54.0" text-anchor="middle">Temperature (<tspan font-size="30.8" dy="-28.6">o</tspan><tspan dy="28.6">C)</tspan></text>
<text transform="translate(69.0 2259.5) rotate(-90)" font-size="54.0" text-anchor="middle">Heat flow (mW/mg)</text>
<text transform="translate(2235.5 2252.2) rotate(-90)" font-size="54.0" text-anchor="middle" fill="#0000ff">Mass (%)</text>
<line x1="393.7" y1="1849.9" x2="517.4" y2="1849.9" stroke="#000" stroke-width="5.5"/>
<line x1="394.5" y1="1914.9" x2="516.6" y2="1914.9" stroke="#0000ff" stroke-width="3.6"/>
<text transform="translate(529.2 1867.2)" font-size="53.8">DSC</text>
<text transform="translate(531.2 1932.6)" font-size="53.8">TG</text>
<line x1="1145.3" y1="1720.0" x2="1145.3" y2="2715.5" stroke="#000" stroke-width="3.0"/><polygon points="1145.3,2748.0 1135.8,2715.5 1154.8,2715.5" fill="#000"/>
<line x1="1431.5" y1="1667.5" x2="1493.2" y2="1729.3" stroke="#000" stroke-width="2.1"/><polygon points="1517.7,1753.8 1487.0,1735.6 1499.5,1723.1" fill="#000"/>
<line x1="1294.7" y1="1732.3" x2="1187.1" y2="1843.5" stroke="#000" stroke-width="2.1"/><polygon points="1163.0,1868.4 1180.7,1837.4 1193.4,1849.7" fill="#000"/>
<line x1="850.0" y1="2747.8" x2="1746.6" y2="2747.8" stroke="#000" stroke-width="2.2"/>
<text transform="translate(1484.0 1832.6)" font-size="53.0">208.0 <tspan font-size="30.2" dy="-26.5">o</tspan><tspan dy="26.5">C</tspan></text>
<text transform="translate(1137.0 1944.8)" font-size="53.0">185.2 <tspan font-size="30.2" dy="-26.5">o</tspan><tspan dy="26.5">C</tspan></text>
<text transform="translate(420.6 2086.2)" font-size="53.8">NC</text>
<text transform="translate(778.0 2177.7) scale(1 1.020)" font-size="54.0" textLength="314.0" lengthAdjust="spacing" stroke="#000" stroke-width="0.7">Δm = 70.0 %</text></g>
</svg></body></html>
